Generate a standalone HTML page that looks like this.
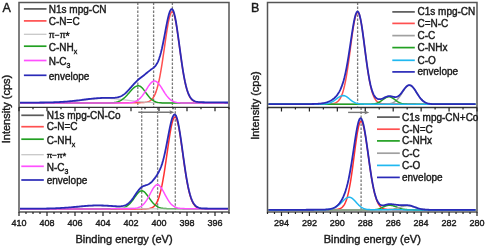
<!DOCTYPE html>
<html><head><meta charset="utf-8"><style>
html,body{margin:0;padding:0;background:#fff;}
svg{display:block;will-change:transform;}
text{font-family:"Liberation Sans",sans-serif;fill:#1a1a1a;stroke:#1a1a1a;stroke-width:0.4px;}
</style></head><body>
<svg width="486" height="248" viewBox="0 0 486 248">
<rect width="486" height="248" fill="#fff"/>
<line x1="137.8" y1="2.5" x2="137.8" y2="107.3" stroke="#7a7a7a" stroke-width="1.3" stroke-dasharray="2.5,1.5"/>
<line x1="153.6" y1="2.5" x2="153.6" y2="107.3" stroke="#7a7a7a" stroke-width="1.3" stroke-dasharray="2.5,1.5"/>
<line x1="172.4" y1="2.5" x2="172.4" y2="107.3" stroke="#7a7a7a" stroke-width="1.3" stroke-dasharray="2.5,1.5"/>
<line x1="141.7" y1="107.3" x2="141.7" y2="212" stroke="#7a7a7a" stroke-width="1.3" stroke-dasharray="2.5,1.5"/>
<line x1="157.6" y1="107.3" x2="157.6" y2="212" stroke="#7a7a7a" stroke-width="1.3" stroke-dasharray="2.5,1.5"/>
<line x1="175.3" y1="107.3" x2="175.3" y2="212" stroke="#7a7a7a" stroke-width="1.3" stroke-dasharray="2.5,1.5"/>
<path d="M20.0,102.98 L21.0,102.98 L22.0,102.98 L23.0,102.98 L24.0,102.98 L25.0,102.98 L26.0,102.98 L27.0,102.98 L28.0,102.98 L29.0,102.98 L30.0,102.98 L31.0,102.98 L32.0,102.98 L33.0,102.98 L34.0,102.98 L35.0,102.98 L36.0,102.98 L37.0,102.98 L38.0,102.98 L39.0,102.98 L40.0,102.98 L41.0,102.98 L42.0,102.98 L43.0,102.98 L44.0,102.98 L45.0,102.98 L46.0,102.98 L47.0,102.98 L48.0,102.98 L49.0,102.97 L50.0,102.97 L51.0,102.97 L52.0,102.97 L53.0,102.97 L54.0,102.97 L55.0,102.97 L56.0,102.97 L57.0,102.97 L58.0,102.97 L59.0,102.97 L60.0,102.97 L61.0,102.97 L62.0,102.97 L63.0,102.97 L64.0,102.97 L65.0,102.97 L66.0,102.97 L67.0,102.97 L68.0,102.96 L69.0,102.96 L70.0,102.96 L71.0,102.96 L72.0,102.96 L73.0,102.96 L74.0,102.96 L75.0,102.96 L76.0,102.96 L77.0,102.96 L78.0,102.96 L79.0,102.96 L80.0,102.96 L81.0,102.95 L82.0,102.95 L83.0,102.95 L84.0,102.95 L85.0,102.95 L86.0,102.95 L87.0,102.95 L88.0,102.95 L89.0,102.95 L90.0,102.94 L91.0,102.94 L92.0,102.94 L93.0,102.94 L94.0,102.94 L95.0,102.94 L96.0,102.93 L97.0,102.93 L98.0,102.93 L99.0,102.93 L100.0,102.93 L101.0,102.93 L102.0,102.92 L103.0,102.92 L104.0,102.92 L105.0,102.92 L106.0,102.91 L107.0,102.91 L108.0,102.91 L109.0,102.91 L110.0,102.90 L111.0,102.90 L112.0,102.90 L113.0,102.89 L114.0,102.89 L115.0,102.89 L116.0,102.88 L117.0,102.88 L118.0,102.87 L119.0,102.87 L120.0,102.86 L121.0,102.86 L122.0,102.85 L123.0,102.85 L124.0,102.84 L125.0,102.83 L126.0,102.83 L127.0,102.82 L128.0,102.81 L129.0,102.80 L130.0,102.79 L131.0,102.78 L132.0,102.77 L133.0,102.76 L134.0,102.75 L135.0,102.74 L136.0,102.72 L137.0,102.71 L138.0,102.69 L139.0,102.67 L140.0,102.64 L141.0,102.61 L142.0,102.57 L143.0,102.51 L144.0,102.44 L145.0,102.33 L146.0,102.19 L147.0,102.00 L148.0,101.72 L149.0,101.34 L150.0,100.82 L151.0,100.12 L152.0,99.19 L153.0,97.96 L154.0,96.37 L155.0,94.36 L156.0,91.86 L157.0,88.79 L158.0,85.11 L159.0,80.80 L160.0,75.82 L161.0,70.23 L162.0,64.07 L163.0,57.46 L164.0,50.55 L165.0,43.53 L166.0,36.62 L167.0,30.09 L168.0,24.19 L169.0,19.19 L170.0,15.33 L171.0,12.80 L172.0,11.73 L173.0,12.24 L174.0,14.42 L175.0,18.12 L176.0,23.14 L177.0,29.22 L178.0,36.04 L179.0,43.30 L180.0,50.70 L181.0,57.97 L182.0,64.90 L183.0,71.30 L184.0,77.06 L185.0,82.12 L186.0,86.46 L187.0,90.09 L188.0,93.06 L189.0,95.44 L190.0,97.31 L191.0,98.75 L192.0,99.84 L193.0,100.65 L194.0,101.24 L195.0,101.67 L196.0,101.97 L197.0,102.18 L198.0,102.33 L199.0,102.44 L200.0,102.52 L201.0,102.57 L202.0,102.61 L203.0,102.65 L204.0,102.67 L205.0,102.69 L206.0,102.71 L207.0,102.73 L208.0,102.74 L209.0,102.76 L210.0,102.77 L211.0,102.78 L212.0,102.79 L213.0,102.80 L214.0,102.81 L215.0,102.82 L216.0,102.83 L217.0,102.83 L218.0,102.84 L219.0,102.85 L220.0,102.85 L221.0,102.86 L222.0,102.86 L223.0,102.87 L224.0,102.87 L225.0,102.88 L226.0,102.88 L227.0,102.89 L228.0,102.89" fill="none" stroke="#ff5050" stroke-width="1.5" stroke-linejoin="round"/>
<path d="M20.0,103.00 L21.0,103.00 L22.0,103.00 L23.0,103.00 L24.0,102.99 L25.0,102.99 L26.0,102.99 L27.0,102.99 L28.0,102.99 L29.0,102.99 L30.0,102.99 L31.0,102.98 L32.0,102.98 L33.0,102.98 L34.0,102.97 L35.0,102.97 L36.0,102.97 L37.0,102.96 L38.0,102.96 L39.0,102.95 L40.0,102.94 L41.0,102.93 L42.0,102.92 L43.0,102.91 L44.0,102.90 L45.0,102.89 L46.0,102.87 L47.0,102.86 L48.0,102.84 L49.0,102.82 L50.0,102.80 L51.0,102.77 L52.0,102.75 L53.0,102.72 L54.0,102.69 L55.0,102.65 L56.0,102.61 L57.0,102.57 L58.0,102.53 L59.0,102.48 L60.0,102.43 L61.0,102.38 L62.0,102.32 L63.0,102.26 L64.0,102.19 L65.0,102.12 L66.0,102.04 L67.0,101.97 L68.0,101.88 L69.0,101.79 L70.0,101.70 L71.0,101.61 L72.0,101.51 L73.0,101.40 L74.0,101.30 L75.0,101.18 L76.0,101.07 L77.0,100.95 L78.0,100.83 L79.0,100.71 L80.0,100.59 L81.0,100.46 L82.0,100.34 L83.0,100.21 L84.0,100.08 L85.0,99.96 L86.0,99.83 L87.0,99.71 L88.0,99.59 L89.0,99.47 L90.0,99.35 L91.0,99.24 L92.0,99.14 L93.0,99.04 L94.0,98.94 L95.0,98.85 L96.0,98.77 L97.0,98.69 L98.0,98.63 L99.0,98.57 L100.0,98.52 L101.0,98.48 L102.0,98.44 L103.0,98.42 L104.0,98.40 L105.0,98.40 L106.0,98.40 L107.0,98.42 L108.0,98.44 L109.0,98.48 L110.0,98.52 L111.0,98.57 L112.0,98.63 L113.0,98.69 L114.0,98.77 L115.0,98.85 L116.0,98.94 L117.0,99.04 L118.0,99.14 L119.0,99.24 L120.0,99.35 L121.0,99.47 L122.0,99.59 L123.0,99.71 L124.0,99.83 L125.0,99.96 L126.0,100.08 L127.0,100.21 L128.0,100.34 L129.0,100.46 L130.0,100.59 L131.0,100.71 L132.0,100.83 L133.0,100.95 L134.0,101.07 L135.0,101.18 L136.0,101.30 L137.0,101.40 L138.0,101.51 L139.0,101.61 L140.0,101.70 L141.0,101.79 L142.0,101.88 L143.0,101.97 L144.0,102.04 L145.0,102.12 L146.0,102.19 L147.0,102.26 L148.0,102.32 L149.0,102.38 L150.0,102.43 L151.0,102.48 L152.0,102.53 L153.0,102.57 L154.0,102.61 L155.0,102.65 L156.0,102.69 L157.0,102.72 L158.0,102.75 L159.0,102.77 L160.0,102.80 L161.0,102.82 L162.0,102.84 L163.0,102.86 L164.0,102.87 L165.0,102.89 L166.0,102.90 L167.0,102.91 L168.0,102.92 L169.0,102.93 L170.0,102.94 L171.0,102.95 L172.0,102.96 L173.0,102.96 L174.0,102.97 L175.0,102.97 L176.0,102.97 L177.0,102.98 L178.0,102.98 L179.0,102.98 L180.0,102.99 L181.0,102.99 L182.0,102.99 L183.0,102.99 L184.0,102.99 L185.0,102.99 L186.0,102.99 L187.0,103.00 L188.0,103.00 L189.0,103.00 L190.0,103.00 L191.0,103.00 L192.0,103.00 L193.0,103.00 L194.0,103.00 L195.0,103.00 L196.0,103.00 L197.0,103.00 L198.0,103.00 L199.0,103.00 L200.0,103.00 L201.0,103.00 L202.0,103.00 L203.0,103.00 L204.0,103.00 L205.0,103.00 L206.0,103.00 L207.0,103.00 L208.0,103.00 L209.0,103.00 L210.0,103.00 L211.0,103.00 L212.0,103.00 L213.0,103.00 L214.0,103.00 L215.0,103.00 L216.0,103.00 L217.0,103.00 L218.0,103.00 L219.0,103.00 L220.0,103.00 L221.0,103.00 L222.0,103.00 L223.0,103.00 L224.0,103.00 L225.0,103.00 L226.0,103.00 L227.0,103.00 L228.0,103.00" fill="none" stroke="#c8c8c8" stroke-width="1.2" stroke-linejoin="round"/>
<path d="M20.0,103.00 L21.0,103.00 L22.0,103.00 L23.0,103.00 L24.0,103.00 L25.0,103.00 L26.0,103.00 L27.0,103.00 L28.0,103.00 L29.0,103.00 L30.0,103.00 L31.0,103.00 L32.0,103.00 L33.0,103.00 L34.0,103.00 L35.0,103.00 L36.0,103.00 L37.0,103.00 L38.0,103.00 L39.0,103.00 L40.0,103.00 L41.0,103.00 L42.0,103.00 L43.0,103.00 L44.0,103.00 L45.0,103.00 L46.0,103.00 L47.0,103.00 L48.0,103.00 L49.0,103.00 L50.0,103.00 L51.0,103.00 L52.0,103.00 L53.0,103.00 L54.0,103.00 L55.0,103.00 L56.0,103.00 L57.0,103.00 L58.0,103.00 L59.0,103.00 L60.0,103.00 L61.0,103.00 L62.0,103.00 L63.0,103.00 L64.0,103.00 L65.0,103.00 L66.0,103.00 L67.0,103.00 L68.0,103.00 L69.0,103.00 L70.0,103.00 L71.0,103.00 L72.0,103.00 L73.0,103.00 L74.0,103.00 L75.0,103.00 L76.0,103.00 L77.0,103.00 L78.0,103.00 L79.0,103.00 L80.0,103.00 L81.0,103.00 L82.0,103.00 L83.0,103.00 L84.0,103.00 L85.0,103.00 L86.0,103.00 L87.0,103.00 L88.0,103.00 L89.0,103.00 L90.0,103.00 L91.0,103.00 L92.0,103.00 L93.0,103.00 L94.0,103.00 L95.0,103.00 L96.0,103.00 L97.0,103.00 L98.0,103.00 L99.0,103.00 L100.0,103.00 L101.0,103.00 L102.0,102.99 L103.0,102.99 L104.0,102.99 L105.0,102.98 L106.0,102.97 L107.0,102.96 L108.0,102.94 L109.0,102.91 L110.0,102.88 L111.0,102.83 L112.0,102.76 L113.0,102.67 L114.0,102.55 L115.0,102.40 L116.0,102.20 L117.0,101.95 L118.0,101.65 L119.0,101.27 L120.0,100.82 L121.0,100.29 L122.0,99.66 L123.0,98.95 L124.0,98.13 L125.0,97.23 L126.0,96.24 L127.0,95.18 L128.0,94.06 L129.0,92.92 L130.0,91.76 L131.0,90.62 L132.0,89.54 L133.0,88.54 L134.0,87.66 L135.0,86.92 L136.0,86.35 L137.0,85.98 L138.0,85.81 L139.0,85.87 L140.0,86.24 L141.0,86.88 L142.0,87.77 L143.0,88.87 L144.0,90.11 L145.0,91.46 L146.0,92.85 L147.0,94.22 L148.0,95.55 L149.0,96.78 L150.0,97.91 L151.0,98.90 L152.0,99.76 L153.0,100.48 L154.0,101.08 L155.0,101.56 L156.0,101.94 L157.0,102.23 L158.0,102.45 L159.0,102.62 L160.0,102.74 L161.0,102.82 L162.0,102.88 L163.0,102.92 L164.0,102.95 L165.0,102.97 L166.0,102.98 L167.0,102.99 L168.0,102.99 L169.0,103.00 L170.0,103.00 L171.0,103.00 L172.0,103.00 L173.0,103.00 L174.0,103.00 L175.0,103.00 L176.0,103.00 L177.0,103.00 L178.0,103.00 L179.0,103.00 L180.0,103.00 L181.0,103.00 L182.0,103.00 L183.0,103.00 L184.0,103.00 L185.0,103.00 L186.0,103.00 L187.0,103.00 L188.0,103.00 L189.0,103.00 L190.0,103.00 L191.0,103.00 L192.0,103.00 L193.0,103.00 L194.0,103.00 L195.0,103.00 L196.0,103.00 L197.0,103.00 L198.0,103.00 L199.0,103.00 L200.0,103.00 L201.0,103.00 L202.0,103.00 L203.0,103.00 L204.0,103.00 L205.0,103.00 L206.0,103.00 L207.0,103.00 L208.0,103.00 L209.0,103.00 L210.0,103.00 L211.0,103.00 L212.0,103.00 L213.0,103.00 L214.0,103.00 L215.0,103.00 L216.0,103.00 L217.0,103.00 L218.0,103.00 L219.0,103.00 L220.0,103.00 L221.0,103.00 L222.0,103.00 L223.0,103.00 L224.0,103.00 L225.0,103.00 L226.0,103.00 L227.0,103.00 L228.0,103.00" fill="none" stroke="#22a022" stroke-width="1.5" stroke-linejoin="round"/>
<path d="M20.0,103.00 L21.0,103.00 L22.0,103.00 L23.0,103.00 L24.0,103.00 L25.0,103.00 L26.0,103.00 L27.0,103.00 L28.0,103.00 L29.0,103.00 L30.0,103.00 L31.0,103.00 L32.0,103.00 L33.0,103.00 L34.0,103.00 L35.0,103.00 L36.0,103.00 L37.0,103.00 L38.0,103.00 L39.0,103.00 L40.0,103.00 L41.0,103.00 L42.0,103.00 L43.0,103.00 L44.0,103.00 L45.0,103.00 L46.0,103.00 L47.0,103.00 L48.0,103.00 L49.0,103.00 L50.0,103.00 L51.0,103.00 L52.0,103.00 L53.0,103.00 L54.0,103.00 L55.0,103.00 L56.0,103.00 L57.0,103.00 L58.0,103.00 L59.0,103.00 L60.0,103.00 L61.0,103.00 L62.0,103.00 L63.0,103.00 L64.0,103.00 L65.0,103.00 L66.0,103.00 L67.0,103.00 L68.0,103.00 L69.0,103.00 L70.0,103.00 L71.0,103.00 L72.0,103.00 L73.0,103.00 L74.0,103.00 L75.0,103.00 L76.0,103.00 L77.0,103.00 L78.0,103.00 L79.0,103.00 L80.0,103.00 L81.0,103.00 L82.0,103.00 L83.0,103.00 L84.0,103.00 L85.0,103.00 L86.0,103.00 L87.0,103.00 L88.0,103.00 L89.0,103.00 L90.0,103.00 L91.0,103.00 L92.0,103.00 L93.0,103.00 L94.0,103.00 L95.0,103.00 L96.0,103.00 L97.0,103.00 L98.0,103.00 L99.0,103.00 L100.0,103.00 L101.0,103.00 L102.0,103.00 L103.0,103.00 L104.0,103.00 L105.0,103.00 L106.0,103.00 L107.0,103.00 L108.0,103.00 L109.0,103.00 L110.0,103.00 L111.0,103.00 L112.0,103.00 L113.0,103.00 L114.0,103.00 L115.0,103.00 L116.0,103.00 L117.0,103.00 L118.0,103.00 L119.0,103.00 L120.0,103.00 L121.0,102.99 L122.0,102.99 L123.0,102.99 L124.0,102.98 L125.0,102.97 L126.0,102.95 L127.0,102.92 L128.0,102.88 L129.0,102.83 L130.0,102.75 L131.0,102.64 L132.0,102.49 L133.0,102.29 L134.0,102.03 L135.0,101.70 L136.0,101.27 L137.0,100.74 L138.0,100.09 L139.0,99.31 L140.0,98.39 L141.0,97.33 L142.0,96.12 L143.0,94.77 L144.0,93.31 L145.0,91.75 L146.0,90.14 L147.0,88.52 L148.0,86.93 L149.0,85.43 L150.0,84.08 L151.0,82.92 L152.0,82.00 L153.0,81.37 L154.0,81.04 L155.0,81.04 L156.0,81.37 L157.0,82.00 L158.0,82.92 L159.0,84.08 L160.0,85.43 L161.0,86.93 L162.0,88.52 L163.0,90.14 L164.0,91.75 L165.0,93.31 L166.0,94.77 L167.0,96.12 L168.0,97.33 L169.0,98.39 L170.0,99.31 L171.0,100.09 L172.0,100.74 L173.0,101.27 L174.0,101.70 L175.0,102.03 L176.0,102.29 L177.0,102.49 L178.0,102.64 L179.0,102.75 L180.0,102.83 L181.0,102.88 L182.0,102.92 L183.0,102.95 L184.0,102.97 L185.0,102.98 L186.0,102.99 L187.0,102.99 L188.0,102.99 L189.0,103.00 L190.0,103.00 L191.0,103.00 L192.0,103.00 L193.0,103.00 L194.0,103.00 L195.0,103.00 L196.0,103.00 L197.0,103.00 L198.0,103.00 L199.0,103.00 L200.0,103.00 L201.0,103.00 L202.0,103.00 L203.0,103.00 L204.0,103.00 L205.0,103.00 L206.0,103.00 L207.0,103.00 L208.0,103.00 L209.0,103.00 L210.0,103.00 L211.0,103.00 L212.0,103.00 L213.0,103.00 L214.0,103.00 L215.0,103.00 L216.0,103.00 L217.0,103.00 L218.0,103.00 L219.0,103.00 L220.0,103.00 L221.0,103.00 L222.0,103.00 L223.0,103.00 L224.0,103.00 L225.0,103.00 L226.0,103.00 L227.0,103.00 L228.0,103.00" fill="none" stroke="#ff50ff" stroke-width="1.5" stroke-linejoin="round"/>
<path d="M20.0,102.58 L21.0,102.58 L22.0,102.58 L23.0,102.58 L24.0,102.58 L25.0,102.58 L26.0,102.57 L27.0,102.57 L28.0,102.57 L29.0,102.57 L30.0,102.57 L31.0,102.56 L32.0,102.56 L33.0,102.56 L34.0,102.55 L35.0,102.55 L36.0,102.55 L37.0,102.54 L38.0,102.53 L39.0,102.53 L40.0,102.52 L41.0,102.51 L42.0,102.50 L43.0,102.49 L44.0,102.48 L45.0,102.46 L46.0,102.45 L47.0,102.43 L48.0,102.41 L49.0,102.39 L50.0,102.37 L51.0,102.35 L52.0,102.32 L53.0,102.29 L54.0,102.26 L55.0,102.22 L56.0,102.19 L57.0,102.15 L58.0,102.10 L59.0,102.05 L60.0,102.00 L61.0,101.95 L62.0,101.89 L63.0,101.82 L64.0,101.76 L65.0,101.69 L66.0,101.61 L67.0,101.53 L68.0,101.45 L69.0,101.36 L70.0,101.27 L71.0,101.17 L72.0,101.07 L73.0,100.96 L74.0,100.86 L75.0,100.74 L76.0,100.63 L77.0,100.51 L78.0,100.39 L79.0,100.27 L80.0,100.14 L81.0,100.02 L82.0,99.89 L83.0,99.76 L84.0,99.63 L85.0,99.51 L86.0,99.38 L87.0,99.26 L88.0,99.13 L89.0,99.01 L90.0,98.90 L91.0,98.79 L92.0,98.68 L93.0,98.58 L94.0,98.48 L95.0,98.39 L96.0,98.30 L97.0,98.23 L98.0,98.16 L99.0,98.10 L100.0,98.04 L101.0,98.00 L102.0,97.96 L103.0,97.93 L104.0,97.91 L105.0,97.90 L106.0,97.89 L107.0,97.89 L108.0,97.89 L109.0,97.90 L110.0,97.90 L111.0,97.89 L112.0,97.88 L113.0,97.86 L114.0,97.81 L115.0,97.73 L116.0,97.62 L117.0,97.47 L118.0,97.26 L119.0,96.98 L120.0,96.64 L121.0,96.21 L122.0,95.69 L123.0,95.09 L124.0,94.38 L125.0,93.58 L126.0,92.70 L127.0,91.73 L128.0,90.69 L129.0,89.59 L130.0,88.46 L131.0,87.32 L132.0,86.17 L133.0,85.05 L134.0,83.95 L135.0,82.90 L136.0,81.88 L137.0,80.90 L138.0,79.95 L139.0,79.04 L140.0,78.20 L141.0,77.42 L142.0,76.67 L143.0,75.93 L144.0,75.17 L145.0,74.38 L146.0,73.57 L147.0,72.74 L148.0,71.92 L149.0,71.11 L150.0,70.34 L151.0,69.59 L152.0,68.87 L153.0,68.12 L154.0,67.30 L155.0,66.33 L156.0,65.11 L157.0,63.55 L158.0,61.57 L159.0,59.08 L160.0,56.02 L161.0,52.38 L162.0,48.17 L163.0,43.46 L164.0,38.37 L165.0,33.05 L166.0,27.72 L167.0,22.61 L168.0,17.98 L169.0,14.08 L170.0,11.16 L171.0,9.43 L172.0,9.02 L173.0,10.07 L174.0,12.68 L175.0,16.72 L176.0,22.01 L177.0,28.29 L178.0,35.26 L179.0,42.63 L180.0,50.11 L181.0,57.44 L182.0,64.41 L183.0,70.84 L184.0,76.62 L185.0,81.70 L186.0,86.04 L187.0,89.67 L188.0,92.65 L189.0,95.03 L190.0,96.91 L191.0,98.35 L192.0,99.44 L193.0,100.25 L194.0,100.84 L195.0,101.26 L196.0,101.57 L197.0,101.78 L198.0,101.93 L199.0,102.04 L200.0,102.12 L201.0,102.17 L202.0,102.21 L203.0,102.25 L204.0,102.27 L205.0,102.29 L206.0,102.31 L207.0,102.33 L208.0,102.34 L209.0,102.36 L210.0,102.37 L211.0,102.38 L212.0,102.39 L213.0,102.40 L214.0,102.41 L215.0,102.42 L216.0,102.43 L217.0,102.43 L218.0,102.44 L219.0,102.45 L220.0,102.45 L221.0,102.46 L222.0,102.46 L223.0,102.47 L224.0,102.47 L225.0,102.48 L226.0,102.48 L227.0,102.49 L228.0,102.49" fill="none" stroke="#2a2ab8" stroke-width="1.8" stroke-linejoin="round"/>
<path d="M20.0,209.00 L21.0,209.00 L22.0,209.00 L23.0,209.00 L24.0,209.00 L25.0,209.00 L26.0,209.00 L27.0,209.00 L28.0,209.00 L29.0,209.00 L30.0,209.00 L31.0,209.00 L32.0,209.00 L33.0,209.00 L34.0,209.00 L35.0,209.00 L36.0,209.00 L37.0,209.00 L38.0,209.00 L39.0,209.00 L40.0,209.00 L41.0,209.00 L42.0,209.00 L43.0,209.00 L44.0,209.00 L45.0,209.00 L46.0,209.00 L47.0,209.00 L48.0,209.00 L49.0,209.00 L50.0,209.00 L51.0,209.00 L52.0,209.00 L53.0,209.00 L54.0,209.00 L55.0,209.00 L56.0,209.00 L57.0,209.00 L58.0,209.00 L59.0,209.00 L60.0,209.00 L61.0,209.00 L62.0,209.00 L63.0,209.00 L64.0,209.00 L65.0,209.00 L66.0,209.00 L67.0,209.00 L68.0,209.00 L69.0,209.00 L70.0,209.00 L71.0,209.00 L72.0,209.00 L73.0,209.00 L74.0,209.00 L75.0,209.00 L76.0,209.00 L77.0,209.00 L78.0,209.00 L79.0,209.00 L80.0,209.00 L81.0,209.00 L82.0,209.00 L83.0,209.00 L84.0,209.00 L85.0,209.00 L86.0,209.00 L87.0,209.00 L88.0,209.00 L89.0,209.00 L90.0,209.00 L91.0,209.00 L92.0,209.00 L93.0,209.00 L94.0,209.00 L95.0,209.00 L96.0,209.00 L97.0,209.00 L98.0,209.00 L99.0,209.00 L100.0,209.00 L101.0,209.00 L102.0,209.00 L103.0,209.00 L104.0,209.00 L105.0,209.00 L106.0,209.00 L107.0,209.00 L108.0,209.00 L109.0,209.00 L110.0,209.00 L111.0,209.00 L112.0,209.00 L113.0,209.00 L114.0,209.00 L115.0,209.00 L116.0,209.00 L117.0,209.00 L118.0,209.00 L119.0,209.00 L120.0,209.00 L121.0,209.00 L122.0,209.00 L123.0,209.00 L124.0,209.00 L125.0,209.00 L126.0,209.00 L127.0,209.00 L128.0,209.00 L129.0,209.00 L130.0,209.00 L131.0,209.00 L132.0,209.00 L133.0,209.00 L134.0,209.00 L135.0,209.00 L136.0,209.00 L137.0,209.00 L138.0,209.00 L139.0,209.00 L140.0,208.99 L141.0,208.99 L142.0,208.99 L143.0,208.97 L144.0,208.96 L145.0,208.93 L146.0,208.89 L147.0,208.83 L148.0,208.73 L149.0,208.59 L150.0,208.38 L151.0,208.09 L152.0,207.67 L153.0,207.10 L154.0,206.31 L155.0,205.27 L156.0,203.90 L157.0,202.14 L158.0,199.92 L159.0,197.17 L160.0,193.83 L161.0,189.86 L162.0,185.24 L163.0,179.98 L164.0,174.10 L165.0,167.71 L166.0,160.92 L167.0,153.91 L168.0,146.87 L169.0,140.05 L170.0,133.70 L171.0,128.07 L172.0,123.40 L173.0,119.90 L174.0,117.73 L175.0,117.00 L176.0,117.77 L177.0,120.05 L178.0,123.72 L179.0,128.61 L180.0,134.49 L181.0,141.09 L182.0,148.14 L183.0,155.37 L184.0,162.53 L185.0,169.41 L186.0,175.84 L187.0,181.69 L188.0,186.88 L189.0,191.38 L190.0,195.20 L191.0,198.38 L192.0,200.96 L193.0,203.01 L194.0,204.62 L195.0,205.85 L196.0,206.77 L197.0,207.45 L198.0,207.94 L199.0,208.29 L200.0,208.53 L201.0,208.69 L202.0,208.80 L203.0,208.88 L204.0,208.92 L205.0,208.95 L206.0,208.97 L207.0,208.98 L208.0,208.99 L209.0,208.99 L210.0,209.00 L211.0,209.00 L212.0,209.00 L213.0,209.00 L214.0,209.00 L215.0,209.00 L216.0,209.00 L217.0,209.00 L218.0,209.00 L219.0,209.00 L220.0,209.00 L221.0,209.00 L222.0,209.00 L223.0,209.00 L224.0,209.00 L225.0,209.00 L226.0,209.00 L227.0,209.00 L228.0,209.00" fill="none" stroke="#ff3030" stroke-width="1.5" stroke-linejoin="round"/>
<path d="M20.0,208.99 L21.0,208.99 L22.0,208.99 L23.0,208.98 L24.0,208.98 L25.0,208.98 L26.0,208.98 L27.0,208.98 L28.0,208.98 L29.0,208.98 L30.0,208.98 L31.0,208.98 L32.0,208.98 L33.0,208.98 L34.0,208.98 L35.0,208.98 L36.0,208.98 L37.0,208.98 L38.0,208.98 L39.0,208.98 L40.0,208.98 L41.0,208.98 L42.0,208.98 L43.0,208.98 L44.0,208.98 L45.0,208.98 L46.0,208.98 L47.0,208.98 L48.0,208.98 L49.0,208.98 L50.0,208.97 L51.0,208.97 L52.0,208.97 L53.0,208.97 L54.0,208.97 L55.0,208.97 L56.0,208.97 L57.0,208.97 L58.0,208.97 L59.0,208.97 L60.0,208.97 L61.0,208.97 L62.0,208.97 L63.0,208.97 L64.0,208.97 L65.0,208.96 L66.0,208.96 L67.0,208.96 L68.0,208.96 L69.0,208.96 L70.0,208.96 L71.0,208.96 L72.0,208.96 L73.0,208.96 L74.0,208.95 L75.0,208.95 L76.0,208.95 L77.0,208.95 L78.0,208.95 L79.0,208.95 L80.0,208.95 L81.0,208.94 L82.0,208.94 L83.0,208.94 L84.0,208.94 L85.0,208.94 L86.0,208.93 L87.0,208.93 L88.0,208.93 L89.0,208.93 L90.0,208.92 L91.0,208.92 L92.0,208.92 L93.0,208.91 L94.0,208.91 L95.0,208.91 L96.0,208.90 L97.0,208.90 L98.0,208.89 L99.0,208.89 L100.0,208.88 L101.0,208.88 L102.0,208.87 L103.0,208.86 L104.0,208.86 L105.0,208.85 L106.0,208.84 L107.0,208.83 L108.0,208.82 L109.0,208.81 L110.0,208.80 L111.0,208.79 L112.0,208.77 L113.0,208.75 L114.0,208.73 L115.0,208.70 L116.0,208.67 L117.0,208.62 L118.0,208.56 L119.0,208.48 L120.0,208.38 L121.0,208.24 L122.0,208.05 L123.0,207.81 L124.0,207.50 L125.0,207.11 L126.0,206.61 L127.0,206.01 L128.0,205.28 L129.0,204.42 L130.0,203.43 L131.0,202.30 L132.0,201.06 L133.0,199.72 L134.0,198.32 L135.0,196.89 L136.0,195.48 L137.0,194.16 L138.0,192.98 L139.0,192.00 L140.0,191.29 L141.0,190.88 L142.0,190.82 L143.0,191.09 L144.0,191.68 L145.0,192.56 L146.0,193.67 L147.0,194.94 L148.0,196.32 L149.0,197.75 L150.0,199.16 L151.0,200.53 L152.0,201.82 L153.0,202.99 L154.0,204.04 L155.0,204.95 L156.0,205.73 L157.0,206.39 L158.0,206.92 L159.0,207.35 L160.0,207.70 L161.0,207.96 L162.0,208.17 L163.0,208.33 L164.0,208.44 L165.0,208.53 L166.0,208.60 L167.0,208.65 L168.0,208.69 L169.0,208.72 L170.0,208.75 L171.0,208.77 L172.0,208.78 L173.0,208.80 L174.0,208.81 L175.0,208.82 L176.0,208.83 L177.0,208.84 L178.0,208.85 L179.0,208.86 L180.0,208.86 L181.0,208.87 L182.0,208.87 L183.0,208.88 L184.0,208.89 L185.0,208.89 L186.0,208.90 L187.0,208.90 L188.0,208.90 L189.0,208.91 L190.0,208.91 L191.0,208.92 L192.0,208.92 L193.0,208.92 L194.0,208.92 L195.0,208.93 L196.0,208.93 L197.0,208.93 L198.0,208.93 L199.0,208.94 L200.0,208.94 L201.0,208.94 L202.0,208.94 L203.0,208.94 L204.0,208.95 L205.0,208.95 L206.0,208.95 L207.0,208.95 L208.0,208.95 L209.0,208.95 L210.0,208.96 L211.0,208.96 L212.0,208.96 L213.0,208.96 L214.0,208.96 L215.0,208.96 L216.0,208.96 L217.0,208.96 L218.0,208.96 L219.0,208.96 L220.0,208.97 L221.0,208.97 L222.0,208.97 L223.0,208.97 L224.0,208.97 L225.0,208.97 L226.0,208.97 L227.0,208.97 L228.0,208.97" fill="none" stroke="#22a022" stroke-width="1.5" stroke-linejoin="round"/>
<path d="M20.0,209.00 L21.0,209.00 L22.0,209.00 L23.0,209.00 L24.0,209.00 L25.0,209.00 L26.0,208.99 L27.0,208.99 L28.0,208.99 L29.0,208.99 L30.0,208.99 L31.0,208.99 L32.0,208.98 L33.0,208.98 L34.0,208.98 L35.0,208.97 L36.0,208.97 L37.0,208.97 L38.0,208.96 L39.0,208.95 L40.0,208.95 L41.0,208.94 L42.0,208.93 L43.0,208.92 L44.0,208.91 L45.0,208.89 L46.0,208.88 L47.0,208.86 L48.0,208.85 L49.0,208.83 L50.0,208.80 L51.0,208.78 L52.0,208.75 L53.0,208.72 L54.0,208.69 L55.0,208.66 L56.0,208.62 L57.0,208.58 L58.0,208.54 L59.0,208.49 L60.0,208.44 L61.0,208.39 L62.0,208.33 L63.0,208.27 L64.0,208.21 L65.0,208.14 L66.0,208.07 L67.0,207.99 L68.0,207.92 L69.0,207.84 L70.0,207.75 L71.0,207.67 L72.0,207.58 L73.0,207.49 L74.0,207.40 L75.0,207.31 L76.0,207.21 L77.0,207.12 L78.0,207.03 L79.0,206.93 L80.0,206.84 L81.0,206.75 L82.0,206.66 L83.0,206.57 L84.0,206.49 L85.0,206.41 L86.0,206.34 L87.0,206.26 L88.0,206.20 L89.0,206.14 L90.0,206.08 L91.0,206.04 L92.0,206.00 L93.0,205.96 L94.0,205.93 L95.0,205.92 L96.0,205.90 L97.0,205.90 L98.0,205.90 L99.0,205.92 L100.0,205.93 L101.0,205.96 L102.0,206.00 L103.0,206.04 L104.0,206.08 L105.0,206.14 L106.0,206.20 L107.0,206.26 L108.0,206.34 L109.0,206.41 L110.0,206.49 L111.0,206.57 L112.0,206.66 L113.0,206.75 L114.0,206.84 L115.0,206.93 L116.0,207.03 L117.0,207.12 L118.0,207.21 L119.0,207.31 L120.0,207.40 L121.0,207.49 L122.0,207.58 L123.0,207.67 L124.0,207.75 L125.0,207.84 L126.0,207.92 L127.0,207.99 L128.0,208.07 L129.0,208.14 L130.0,208.21 L131.0,208.27 L132.0,208.33 L133.0,208.39 L134.0,208.44 L135.0,208.49 L136.0,208.54 L137.0,208.58 L138.0,208.62 L139.0,208.66 L140.0,208.69 L141.0,208.72 L142.0,208.75 L143.0,208.78 L144.0,208.80 L145.0,208.83 L146.0,208.85 L147.0,208.86 L148.0,208.88 L149.0,208.89 L150.0,208.91 L151.0,208.92 L152.0,208.93 L153.0,208.94 L154.0,208.95 L155.0,208.95 L156.0,208.96 L157.0,208.97 L158.0,208.97 L159.0,208.97 L160.0,208.98 L161.0,208.98 L162.0,208.98 L163.0,208.99 L164.0,208.99 L165.0,208.99 L166.0,208.99 L167.0,208.99 L168.0,208.99 L169.0,209.00 L170.0,209.00 L171.0,209.00 L172.0,209.00 L173.0,209.00 L174.0,209.00 L175.0,209.00 L176.0,209.00 L177.0,209.00 L178.0,209.00 L179.0,209.00 L180.0,209.00 L181.0,209.00 L182.0,209.00 L183.0,209.00 L184.0,209.00 L185.0,209.00 L186.0,209.00 L187.0,209.00 L188.0,209.00 L189.0,209.00 L190.0,209.00 L191.0,209.00 L192.0,209.00 L193.0,209.00 L194.0,209.00 L195.0,209.00 L196.0,209.00 L197.0,209.00 L198.0,209.00 L199.0,209.00 L200.0,209.00 L201.0,209.00 L202.0,209.00 L203.0,209.00 L204.0,209.00 L205.0,209.00 L206.0,209.00 L207.0,209.00 L208.0,209.00 L209.0,209.00 L210.0,209.00 L211.0,209.00 L212.0,209.00 L213.0,209.00 L214.0,209.00 L215.0,209.00 L216.0,209.00 L217.0,209.00 L218.0,209.00 L219.0,209.00 L220.0,209.00 L221.0,209.00 L222.0,209.00 L223.0,209.00 L224.0,209.00 L225.0,209.00 L226.0,209.00 L227.0,209.00 L228.0,209.00" fill="none" stroke="#c8c8c8" stroke-width="1.2" stroke-linejoin="round"/>
<path d="M20.0,208.99 L21.0,208.98 L22.0,208.98 L23.0,208.98 L24.0,208.98 L25.0,208.98 L26.0,208.98 L27.0,208.98 L28.0,208.98 L29.0,208.98 L30.0,208.98 L31.0,208.98 L32.0,208.98 L33.0,208.98 L34.0,208.98 L35.0,208.98 L36.0,208.98 L37.0,208.98 L38.0,208.98 L39.0,208.98 L40.0,208.98 L41.0,208.98 L42.0,208.98 L43.0,208.98 L44.0,208.98 L45.0,208.98 L46.0,208.98 L47.0,208.98 L48.0,208.98 L49.0,208.98 L50.0,208.98 L51.0,208.98 L52.0,208.97 L53.0,208.97 L54.0,208.97 L55.0,208.97 L56.0,208.97 L57.0,208.97 L58.0,208.97 L59.0,208.97 L60.0,208.97 L61.0,208.97 L62.0,208.97 L63.0,208.97 L64.0,208.97 L65.0,208.97 L66.0,208.97 L67.0,208.97 L68.0,208.96 L69.0,208.96 L70.0,208.96 L71.0,208.96 L72.0,208.96 L73.0,208.96 L74.0,208.96 L75.0,208.96 L76.0,208.96 L77.0,208.96 L78.0,208.96 L79.0,208.95 L80.0,208.95 L81.0,208.95 L82.0,208.95 L83.0,208.95 L84.0,208.95 L85.0,208.95 L86.0,208.95 L87.0,208.94 L88.0,208.94 L89.0,208.94 L90.0,208.94 L91.0,208.94 L92.0,208.93 L93.0,208.93 L94.0,208.93 L95.0,208.93 L96.0,208.93 L97.0,208.92 L98.0,208.92 L99.0,208.92 L100.0,208.92 L101.0,208.91 L102.0,208.91 L103.0,208.91 L104.0,208.90 L105.0,208.90 L106.0,208.90 L107.0,208.89 L108.0,208.89 L109.0,208.88 L110.0,208.88 L111.0,208.87 L112.0,208.87 L113.0,208.86 L114.0,208.86 L115.0,208.85 L116.0,208.84 L117.0,208.83 L118.0,208.83 L119.0,208.82 L120.0,208.81 L121.0,208.80 L122.0,208.79 L123.0,208.77 L124.0,208.76 L125.0,208.75 L126.0,208.73 L127.0,208.71 L128.0,208.69 L129.0,208.66 L130.0,208.63 L131.0,208.59 L132.0,208.54 L133.0,208.47 L134.0,208.39 L135.0,208.27 L136.0,208.12 L137.0,207.91 L138.0,207.65 L139.0,207.30 L140.0,206.85 L141.0,206.29 L142.0,205.59 L143.0,204.73 L144.0,203.71 L145.0,202.51 L146.0,201.13 L147.0,199.58 L148.0,197.87 L149.0,196.05 L150.0,194.16 L151.0,192.26 L152.0,190.41 L153.0,188.69 L154.0,187.19 L155.0,185.98 L156.0,185.15 L157.0,184.74 L158.0,184.78 L159.0,185.28 L160.0,186.20 L161.0,187.47 L162.0,189.02 L163.0,190.77 L164.0,192.64 L165.0,194.55 L166.0,196.43 L167.0,198.23 L168.0,199.90 L169.0,201.42 L170.0,202.76 L171.0,203.93 L172.0,204.92 L173.0,205.74 L174.0,206.41 L175.0,206.95 L176.0,207.38 L177.0,207.71 L178.0,207.96 L179.0,208.15 L180.0,208.30 L181.0,208.41 L182.0,208.49 L183.0,208.55 L184.0,208.60 L185.0,208.64 L186.0,208.67 L187.0,208.69 L188.0,208.71 L189.0,208.73 L190.0,208.75 L191.0,208.76 L192.0,208.78 L193.0,208.79 L194.0,208.80 L195.0,208.81 L196.0,208.82 L197.0,208.83 L198.0,208.84 L199.0,208.84 L200.0,208.85 L201.0,208.86 L202.0,208.86 L203.0,208.87 L204.0,208.87 L205.0,208.88 L206.0,208.88 L207.0,208.89 L208.0,208.89 L209.0,208.90 L210.0,208.90 L211.0,208.90 L212.0,208.91 L213.0,208.91 L214.0,208.91 L215.0,208.92 L216.0,208.92 L217.0,208.92 L218.0,208.92 L219.0,208.93 L220.0,208.93 L221.0,208.93 L222.0,208.93 L223.0,208.94 L224.0,208.94 L225.0,208.94 L226.0,208.94 L227.0,208.94 L228.0,208.94" fill="none" stroke="#ff50ff" stroke-width="1.5" stroke-linejoin="round"/>
<path d="M20.0,208.67 L21.0,208.67 L22.0,208.67 L23.0,208.67 L24.0,208.66 L25.0,208.66 L26.0,208.66 L27.0,208.66 L28.0,208.66 L29.0,208.66 L30.0,208.65 L31.0,208.65 L32.0,208.65 L33.0,208.65 L34.0,208.64 L35.0,208.64 L36.0,208.63 L37.0,208.63 L38.0,208.62 L39.0,208.61 L40.0,208.61 L41.0,208.60 L42.0,208.59 L43.0,208.58 L44.0,208.56 L45.0,208.55 L46.0,208.53 L47.0,208.52 L48.0,208.50 L49.0,208.48 L50.0,208.45 L51.0,208.43 L52.0,208.40 L53.0,208.37 L54.0,208.34 L55.0,208.30 L56.0,208.26 L57.0,208.22 L58.0,208.18 L59.0,208.13 L60.0,208.08 L61.0,208.02 L62.0,207.97 L63.0,207.90 L64.0,207.84 L65.0,207.77 L66.0,207.70 L67.0,207.62 L68.0,207.54 L69.0,207.46 L70.0,207.38 L71.0,207.29 L72.0,207.20 L73.0,207.11 L74.0,207.01 L75.0,206.92 L76.0,206.82 L77.0,206.73 L78.0,206.63 L79.0,206.53 L80.0,206.44 L81.0,206.34 L82.0,206.25 L83.0,206.16 L84.0,206.08 L85.0,205.99 L86.0,205.91 L87.0,205.84 L88.0,205.77 L89.0,205.70 L90.0,205.65 L91.0,205.59 L92.0,205.55 L93.0,205.51 L94.0,205.47 L95.0,205.45 L96.0,205.43 L97.0,205.42 L98.0,205.42 L99.0,205.42 L100.0,205.43 L101.0,205.45 L102.0,205.48 L103.0,205.51 L104.0,205.55 L105.0,205.59 L106.0,205.64 L107.0,205.69 L108.0,205.75 L109.0,205.81 L110.0,205.87 L111.0,205.93 L112.0,206.00 L113.0,206.06 L114.0,206.13 L115.0,206.18 L116.0,206.24 L117.0,206.28 L118.0,206.30 L119.0,206.31 L120.0,206.28 L121.0,206.22 L122.0,206.12 L123.0,205.95 L124.0,205.72 L125.0,205.39 L126.0,204.96 L127.0,204.41 L128.0,203.74 L129.0,202.92 L130.0,201.96 L131.0,200.86 L132.0,199.63 L133.0,198.28 L134.0,196.84 L135.0,195.35 L136.0,193.84 L137.0,192.35 L138.0,190.95 L139.0,189.66 L140.0,188.53 L141.0,187.59 L142.0,186.84 L143.0,186.28 L144.0,185.86 L145.0,185.53 L146.0,185.23 L147.0,184.91 L148.0,184.51 L149.0,183.99 L150.0,183.32 L151.0,182.50 L152.0,181.53 L153.0,180.42 L154.0,179.19 L155.0,177.86 L156.0,176.44 L157.0,174.93 L158.0,173.29 L159.0,171.48 L160.0,169.40 L161.0,166.98 L162.0,164.12 L163.0,160.76 L164.0,156.87 L165.0,152.48 L166.0,147.64 L167.0,142.47 L168.0,137.15 L169.0,131.88 L170.0,126.90 L171.0,122.46 L172.0,118.80 L173.0,116.14 L174.0,114.65 L175.0,114.47 L176.0,115.68 L177.0,118.30 L178.0,122.23 L179.0,127.32 L180.0,133.35 L181.0,140.06 L182.0,147.20 L183.0,154.50 L184.0,161.72 L185.0,168.64 L186.0,175.10 L187.0,180.98 L188.0,186.20 L189.0,190.72 L190.0,194.57 L191.0,197.76 L192.0,200.35 L193.0,202.42 L194.0,204.04 L195.0,205.28 L196.0,206.22 L197.0,206.91 L198.0,207.41 L199.0,207.76 L200.0,208.02 L201.0,208.19 L202.0,208.31 L203.0,208.39 L204.0,208.44 L205.0,208.48 L206.0,208.51 L207.0,208.52 L208.0,208.54 L209.0,208.54 L210.0,208.55 L211.0,208.56 L212.0,208.56 L213.0,208.57 L214.0,208.57 L215.0,208.58 L216.0,208.58 L217.0,208.58 L218.0,208.59 L219.0,208.59 L220.0,208.59 L221.0,208.60 L222.0,208.60 L223.0,208.60 L224.0,208.61 L225.0,208.61 L226.0,208.61 L227.0,208.61 L228.0,208.62" fill="none" stroke="#2a2ab8" stroke-width="1.8" stroke-linejoin="round"/>
<rect x="19" y="2.5" width="210" height="209.5" fill="none" stroke="#555" stroke-width="1.5"/>
<line x1="19" y1="107.3" x2="229" y2="107.3" stroke="#333" stroke-width="1.3"/>
<path d="M19.00,107.3 v4 M33.00,107.3 v2 M47.00,107.3 v4 M61.00,107.3 v2 M75.00,107.3 v4 M89.00,107.3 v2 M103.00,107.3 v4 M117.00,107.3 v2 M131.00,107.3 v4 M145.00,107.3 v2 M159.00,107.3 v4 M173.00,107.3 v2 M187.00,107.3 v4 M201.00,107.3 v2 M215.00,107.3 v4 M229.00,107.3 v2" stroke="#222" stroke-width="1.2" fill="none"/>
<path d="M19.00,212 v4 M26.00,212 v2 M33.00,212 v2 M40.00,212 v2 M47.00,212 v4 M54.00,212 v2 M61.00,212 v2 M68.00,212 v2 M75.00,212 v4 M82.00,212 v2 M89.00,212 v2 M96.00,212 v2 M103.00,212 v4 M110.00,212 v2 M117.00,212 v2 M124.00,212 v2 M131.00,212 v4 M138.00,212 v2 M145.00,212 v2 M152.00,212 v2 M159.00,212 v4 M166.00,212 v2 M173.00,212 v2 M180.00,212 v2 M187.00,212 v4 M194.00,212 v2 M201.00,212 v2 M208.00,212 v2 M215.00,212 v4 M222.00,212 v2 M229.00,212 v2" stroke="#222" stroke-width="1.2" fill="none"/>
<text x="19.00" y="226.2" text-anchor="middle" font-size="9">410</text>
<text x="47.00" y="226.2" text-anchor="middle" font-size="9">408</text>
<text x="75.00" y="226.2" text-anchor="middle" font-size="9">406</text>
<text x="103.00" y="226.2" text-anchor="middle" font-size="9">404</text>
<text x="131.00" y="226.2" text-anchor="middle" font-size="9">402</text>
<text x="159.00" y="226.2" text-anchor="middle" font-size="9">400</text>
<text x="187.00" y="226.2" text-anchor="middle" font-size="9">398</text>
<text x="215.00" y="226.2" text-anchor="middle" font-size="9">396</text>
<text x="124.00" y="243.2" text-anchor="middle" font-size="11">Binding energy (eV)</text>
<text transform="translate(9.8,109) rotate(-90)" text-anchor="middle" font-size="11">Intensity (cps)</text>
<text x="2.6" y="12.0" font-size="12.5">A</text>
<line x1="138.3" y1="112.3" x2="171.4" y2="112.3" stroke="#777" stroke-width="1.4"/>
<path d="M174.4,112.3 L169.4,110.3 L170.4,112.3 L169.4,114.3 Z" fill="#777"/>
<line x1="23.9" y1="8.9" x2="46.5" y2="8.9" stroke="#5a5a5a" stroke-width="1.7"/>
<text x="48.8" y="13.2" font-size="10">N1s mpg-CN</text>
<line x1="23.9" y1="20.9" x2="46.5" y2="20.9" stroke="#ff5050" stroke-width="1.7"/>
<text x="48.8" y="25.2" font-size="10">C-N=C</text>
<line x1="23.9" y1="34.3" x2="46.5" y2="34.3" stroke="#c8c8c8" stroke-width="1.3"/>
<text x="48.8" y="38.199999999999996" font-size="8.5">π−π<tspan font-size="10.5" dy="1.3">*</tspan></text>
<line x1="23.9" y1="46.2" x2="46.5" y2="46.2" stroke="#22a022" stroke-width="1.7"/>
<text x="48.8" y="50.7" font-size="10">C-NH<tspan font-size="7" dy="3">x</tspan></text>
<line x1="23.9" y1="60.5" x2="46.5" y2="60.5" stroke="#ff50ff" stroke-width="1.7"/>
<text x="48.8" y="65.0" font-size="10">N-C<tspan font-size="7" dy="3">3</tspan></text>
<line x1="23.9" y1="75.3" x2="46.5" y2="75.3" stroke="#2a2ab8" stroke-width="1.7"/>
<text x="48.8" y="79.6" font-size="10">envelope</text>
<line x1="21.3" y1="115.3" x2="43.8" y2="115.3" stroke="#5a5a5a" stroke-width="1.7"/>
<text x="46.7" y="118.8" font-size="10">N1s mpg-CN-Co</text>
<line x1="21.3" y1="126.7" x2="43.8" y2="126.7" stroke="#ff5050" stroke-width="1.7"/>
<text x="46.7" y="130.3" font-size="10">C-N=C</text>
<line x1="21.3" y1="139.2" x2="43.8" y2="139.2" stroke="#22a022" stroke-width="1.7"/>
<text x="46.7" y="144.0" font-size="10">C-NH<tspan font-size="7" dy="3">x</tspan></text>
<line x1="21.3" y1="154.7" x2="43.8" y2="154.7" stroke="#c8c8c8" stroke-width="1.3"/>
<text x="46.7" y="158.2" font-size="8">π−π<tspan font-size="9.5" dy="1.2">*</tspan></text>
<line x1="21.3" y1="166.3" x2="43.8" y2="166.3" stroke="#ff50ff" stroke-width="1.7"/>
<text x="46.7" y="171.10000000000002" font-size="10">N-C<tspan font-size="7" dy="3">3</tspan></text>
<line x1="21.3" y1="180" x2="43.8" y2="180" stroke="#2a2ab8" stroke-width="1.7"/>
<text x="46.7" y="184.1" font-size="10">envelope</text>
<line x1="357.6" y1="2.5" x2="357.6" y2="107.5" stroke="#7a7a7a" stroke-width="1.3" stroke-dasharray="2.5,1.5"/>
<line x1="361.1" y1="107.5" x2="361.1" y2="212" stroke="#7a7a7a" stroke-width="1.3" stroke-dasharray="2.5,1.5"/>
<path d="M268.5,104.17 L269.5,104.17 L270.5,104.16 L271.5,104.16 L272.5,104.16 L273.5,104.16 L274.5,104.16 L275.5,104.16 L276.5,104.16 L277.5,104.16 L278.5,104.16 L279.5,104.16 L280.5,104.15 L281.5,104.15 L282.5,104.15 L283.5,104.15 L284.5,104.15 L285.5,104.15 L286.5,104.15 L287.5,104.15 L288.5,104.14 L289.5,104.14 L290.5,104.14 L291.5,104.14 L292.5,104.14 L293.5,104.14 L294.5,104.13 L295.5,104.13 L296.5,104.13 L297.5,104.13 L298.5,104.12 L299.5,104.12 L300.5,104.12 L301.5,104.12 L302.5,104.11 L303.5,104.11 L304.5,104.11 L305.5,104.10 L306.5,104.10 L307.5,104.10 L308.5,104.09 L309.5,104.09 L310.5,104.08 L311.5,104.08 L312.5,104.07 L313.5,104.07 L314.5,104.06 L315.5,104.05 L316.5,104.05 L317.5,104.04 L318.5,104.03 L319.5,104.02 L320.5,104.01 L321.5,104.00 L322.5,103.99 L323.5,103.98 L324.5,103.97 L325.5,103.95 L326.5,103.93 L327.5,103.91 L328.5,103.88 L329.5,103.84 L330.5,103.78 L331.5,103.70 L332.5,103.59 L333.5,103.42 L334.5,103.19 L335.5,102.85 L336.5,102.38 L337.5,101.72 L338.5,100.81 L339.5,99.58 L340.5,97.96 L341.5,95.86 L342.5,93.20 L343.5,89.90 L344.5,85.88 L345.5,81.12 L346.5,75.61 L347.5,69.40 L348.5,62.57 L349.5,55.28 L350.5,47.73 L351.5,40.20 L352.5,32.98 L353.5,26.38 L354.5,20.74 L355.5,16.35 L356.5,13.46 L357.5,12.24 L358.5,12.79 L359.5,15.16 L360.5,19.18 L361.5,24.62 L362.5,31.16 L363.5,38.45 L364.5,46.15 L365.5,53.93 L366.5,61.48 L367.5,68.58 L368.5,75.05 L369.5,80.77 L370.5,85.71 L371.5,89.85 L372.5,93.25 L373.5,95.97 L374.5,98.10 L375.5,99.72 L376.5,100.94 L377.5,101.83 L378.5,102.48 L379.5,102.94 L380.5,103.25 L381.5,103.48 L382.5,103.63 L383.5,103.73 L384.5,103.80 L385.5,103.85 L386.5,103.89 L387.5,103.92 L388.5,103.94 L389.5,103.96 L390.5,103.97 L391.5,103.99 L392.5,104.00 L393.5,104.01 L394.5,104.02 L395.5,104.03 L396.5,104.04 L397.5,104.04 L398.5,104.05 L399.5,104.06 L400.5,104.06 L401.5,104.07 L402.5,104.08 L403.5,104.08 L404.5,104.09 L405.5,104.09 L406.5,104.10 L407.5,104.10 L408.5,104.10 L409.5,104.11 L410.5,104.11 L411.5,104.11 L412.5,104.12 L413.5,104.12 L414.5,104.12 L415.5,104.12 L416.5,104.13 L417.5,104.13 L418.5,104.13 L419.5,104.13 L420.5,104.14 L421.5,104.14 L422.5,104.14 L423.5,104.14 L424.5,104.14 L425.5,104.14 L426.5,104.15 L427.5,104.15 L428.5,104.15 L429.5,104.15 L430.5,104.15 L431.5,104.15 L432.5,104.15 L433.5,104.16 L434.5,104.16 L435.5,104.16 L436.5,104.16 L437.5,104.16 L438.5,104.16 L439.5,104.16 L440.5,104.16 L441.5,104.16 L442.5,104.16 L443.5,104.17 L444.5,104.17 L445.5,104.17 L446.5,104.17 L447.5,104.17 L448.5,104.17 L449.5,104.17 L450.5,104.17 L451.5,104.17 L452.5,104.17 L453.5,104.17 L454.5,104.17 L455.5,104.17 L456.5,104.17 L457.5,104.17 L458.5,104.17 L459.5,104.18 L460.5,104.18 L461.5,104.18 L462.5,104.18 L463.5,104.18 L464.5,104.18 L465.5,104.18 L466.5,104.18 L467.5,104.18 L468.5,104.18 L469.5,104.18 L470.5,104.18 L471.5,104.18 L472.5,104.18 L473.5,104.18 L474.5,104.18 L475.5,104.18" fill="none" stroke="#ff5050" stroke-width="1.5" stroke-linejoin="round"/>
<path d="M268.5,104.20 L269.5,104.20 L270.5,104.20 L271.5,104.20 L272.5,104.20 L273.5,104.20 L274.5,104.20 L275.5,104.20 L276.5,104.20 L277.5,104.20 L278.5,104.20 L279.5,104.20 L280.5,104.20 L281.5,104.20 L282.5,104.20 L283.5,104.20 L284.5,104.20 L285.5,104.20 L286.5,104.20 L287.5,104.20 L288.5,104.20 L289.5,104.20 L290.5,104.20 L291.5,104.20 L292.5,104.20 L293.5,104.20 L294.5,104.20 L295.5,104.20 L296.5,104.20 L297.5,104.20 L298.5,104.20 L299.5,104.20 L300.5,104.20 L301.5,104.20 L302.5,104.20 L303.5,104.20 L304.5,104.20 L305.5,104.20 L306.5,104.20 L307.5,104.20 L308.5,104.20 L309.5,104.20 L310.5,104.20 L311.5,104.20 L312.5,104.20 L313.5,104.20 L314.5,104.20 L315.5,104.20 L316.5,104.20 L317.5,104.20 L318.5,104.20 L319.5,104.20 L320.5,104.20 L321.5,104.20 L322.5,104.20 L323.5,104.20 L324.5,104.20 L325.5,104.20 L326.5,104.20 L327.5,104.20 L328.5,104.20 L329.5,104.20 L330.5,104.20 L331.5,104.20 L332.5,104.20 L333.5,104.20 L334.5,104.20 L335.5,104.20 L336.5,104.20 L337.5,104.20 L338.5,104.20 L339.5,104.20 L340.5,104.20 L341.5,104.20 L342.5,104.20 L343.5,104.20 L344.5,104.20 L345.5,104.20 L346.5,104.20 L347.5,104.20 L348.5,104.20 L349.5,104.20 L350.5,104.20 L351.5,104.20 L352.5,104.20 L353.5,104.20 L354.5,104.20 L355.5,104.20 L356.5,104.20 L357.5,104.20 L358.5,104.20 L359.5,104.20 L360.5,104.20 L361.5,104.20 L362.5,104.20 L363.5,104.20 L364.5,104.20 L365.5,104.20 L366.5,104.20 L367.5,104.20 L368.5,104.20 L369.5,104.20 L370.5,104.20 L371.5,104.20 L372.5,104.20 L373.5,104.20 L374.5,104.20 L375.5,104.20 L376.5,104.20 L377.5,104.20 L378.5,104.20 L379.5,104.20 L380.5,104.19 L381.5,104.19 L382.5,104.18 L383.5,104.17 L384.5,104.15 L385.5,104.12 L386.5,104.08 L387.5,104.01 L388.5,103.92 L389.5,103.78 L390.5,103.59 L391.5,103.34 L392.5,102.99 L393.5,102.54 L394.5,101.97 L395.5,101.25 L396.5,100.38 L397.5,99.35 L398.5,98.16 L399.5,96.82 L400.5,95.35 L401.5,93.79 L402.5,92.20 L403.5,90.62 L404.5,89.13 L405.5,87.79 L406.5,86.68 L407.5,85.85 L408.5,85.35 L409.5,85.20 L410.5,85.42 L411.5,85.99 L412.5,86.88 L413.5,88.04 L414.5,89.42 L415.5,90.93 L416.5,92.52 L417.5,94.11 L418.5,95.65 L419.5,97.10 L420.5,98.41 L421.5,99.57 L422.5,100.57 L423.5,101.41 L424.5,102.09 L425.5,102.64 L426.5,103.07 L427.5,103.39 L428.5,103.64 L429.5,103.81 L430.5,103.94 L431.5,104.03 L432.5,104.09 L433.5,104.13 L434.5,104.16 L435.5,104.17 L436.5,104.18 L437.5,104.19 L438.5,104.19 L439.5,104.20 L440.5,104.20 L441.5,104.20 L442.5,104.20 L443.5,104.20 L444.5,104.20 L445.5,104.20 L446.5,104.20 L447.5,104.20 L448.5,104.20 L449.5,104.20 L450.5,104.20 L451.5,104.20 L452.5,104.20 L453.5,104.20 L454.5,104.20 L455.5,104.20 L456.5,104.20 L457.5,104.20 L458.5,104.20 L459.5,104.20 L460.5,104.20 L461.5,104.20 L462.5,104.20 L463.5,104.20 L464.5,104.20 L465.5,104.20 L466.5,104.20 L467.5,104.20 L468.5,104.20 L469.5,104.20 L470.5,104.20 L471.5,104.20 L472.5,104.20 L473.5,104.20 L474.5,104.20 L475.5,104.20" fill="none" stroke="#a0a0a0" stroke-width="1.5" stroke-linejoin="round"/>
<path d="M268.5,104.20 L269.5,104.20 L270.5,104.20 L271.5,104.20 L272.5,104.20 L273.5,104.20 L274.5,104.20 L275.5,104.20 L276.5,104.20 L277.5,104.20 L278.5,104.20 L279.5,104.20 L280.5,104.20 L281.5,104.20 L282.5,104.20 L283.5,104.20 L284.5,104.20 L285.5,104.20 L286.5,104.20 L287.5,104.20 L288.5,104.20 L289.5,104.20 L290.5,104.20 L291.5,104.20 L292.5,104.20 L293.5,104.20 L294.5,104.20 L295.5,104.20 L296.5,104.20 L297.5,104.20 L298.5,104.20 L299.5,104.20 L300.5,104.20 L301.5,104.20 L302.5,104.20 L303.5,104.20 L304.5,104.20 L305.5,104.20 L306.5,104.20 L307.5,104.20 L308.5,104.20 L309.5,104.20 L310.5,104.20 L311.5,104.20 L312.5,104.20 L313.5,104.20 L314.5,104.20 L315.5,104.20 L316.5,104.20 L317.5,104.20 L318.5,104.20 L319.5,104.20 L320.5,104.20 L321.5,104.20 L322.5,104.20 L323.5,104.20 L324.5,104.20 L325.5,104.20 L326.5,104.20 L327.5,104.20 L328.5,104.20 L329.5,104.20 L330.5,104.20 L331.5,104.20 L332.5,104.20 L333.5,104.20 L334.5,104.20 L335.5,104.20 L336.5,104.20 L337.5,104.20 L338.5,104.20 L339.5,104.20 L340.5,104.20 L341.5,104.20 L342.5,104.20 L343.5,104.20 L344.5,104.20 L345.5,104.20 L346.5,104.20 L347.5,104.20 L348.5,104.20 L349.5,104.20 L350.5,104.20 L351.5,104.20 L352.5,104.20 L353.5,104.20 L354.5,104.20 L355.5,104.20 L356.5,104.20 L357.5,104.20 L358.5,104.20 L359.5,104.20 L360.5,104.20 L361.5,104.20 L362.5,104.20 L363.5,104.20 L364.5,104.20 L365.5,104.20 L366.5,104.19 L367.5,104.19 L368.5,104.18 L369.5,104.16 L370.5,104.13 L371.5,104.09 L372.5,104.02 L373.5,103.93 L374.5,103.78 L375.5,103.59 L376.5,103.33 L377.5,102.98 L378.5,102.55 L379.5,102.03 L380.5,101.42 L381.5,100.74 L382.5,100.01 L383.5,99.26 L384.5,98.54 L385.5,97.90 L386.5,97.37 L387.5,97.00 L388.5,96.82 L389.5,96.84 L390.5,97.06 L391.5,97.46 L392.5,98.02 L393.5,98.68 L394.5,99.41 L395.5,100.16 L396.5,100.88 L397.5,101.55 L398.5,102.14 L399.5,102.65 L400.5,103.06 L401.5,103.38 L402.5,103.63 L403.5,103.82 L404.5,103.95 L405.5,104.04 L406.5,104.10 L407.5,104.14 L408.5,104.16 L409.5,104.18 L410.5,104.19 L411.5,104.19 L412.5,104.20 L413.5,104.20 L414.5,104.20 L415.5,104.20 L416.5,104.20 L417.5,104.20 L418.5,104.20 L419.5,104.20 L420.5,104.20 L421.5,104.20 L422.5,104.20 L423.5,104.20 L424.5,104.20 L425.5,104.20 L426.5,104.20 L427.5,104.20 L428.5,104.20 L429.5,104.20 L430.5,104.20 L431.5,104.20 L432.5,104.20 L433.5,104.20 L434.5,104.20 L435.5,104.20 L436.5,104.20 L437.5,104.20 L438.5,104.20 L439.5,104.20 L440.5,104.20 L441.5,104.20 L442.5,104.20 L443.5,104.20 L444.5,104.20 L445.5,104.20 L446.5,104.20 L447.5,104.20 L448.5,104.20 L449.5,104.20 L450.5,104.20 L451.5,104.20 L452.5,104.20 L453.5,104.20 L454.5,104.20 L455.5,104.20 L456.5,104.20 L457.5,104.20 L458.5,104.20 L459.5,104.20 L460.5,104.20 L461.5,104.20 L462.5,104.20 L463.5,104.20 L464.5,104.20 L465.5,104.20 L466.5,104.20 L467.5,104.20 L468.5,104.20 L469.5,104.20 L470.5,104.20 L471.5,104.20 L472.5,104.20 L473.5,104.20 L474.5,104.20 L475.5,104.20" fill="none" stroke="#22a022" stroke-width="1.5" stroke-linejoin="round"/>
<path d="M268.5,104.20 L269.5,104.19 L270.5,104.19 L271.5,104.19 L272.5,104.19 L273.5,104.19 L274.5,104.19 L275.5,104.19 L276.5,104.19 L277.5,104.19 L278.5,104.19 L279.5,104.19 L280.5,104.19 L281.5,104.19 L282.5,104.19 L283.5,104.19 L284.5,104.19 L285.5,104.19 L286.5,104.19 L287.5,104.19 L288.5,104.19 L289.5,104.19 L290.5,104.19 L291.5,104.19 L292.5,104.19 L293.5,104.19 L294.5,104.19 L295.5,104.19 L296.5,104.19 L297.5,104.19 L298.5,104.19 L299.5,104.19 L300.5,104.19 L301.5,104.18 L302.5,104.18 L303.5,104.18 L304.5,104.18 L305.5,104.18 L306.5,104.18 L307.5,104.18 L308.5,104.18 L309.5,104.18 L310.5,104.18 L311.5,104.17 L312.5,104.17 L313.5,104.17 L314.5,104.17 L315.5,104.16 L316.5,104.16 L317.5,104.16 L318.5,104.15 L319.5,104.14 L320.5,104.12 L321.5,104.10 L322.5,104.06 L323.5,104.02 L324.5,103.95 L325.5,103.85 L326.5,103.72 L327.5,103.54 L328.5,103.31 L329.5,103.02 L330.5,102.65 L331.5,102.20 L332.5,101.68 L333.5,101.07 L334.5,100.40 L335.5,99.67 L336.5,98.92 L337.5,98.16 L338.5,97.45 L339.5,96.80 L340.5,96.26 L341.5,95.87 L342.5,95.65 L343.5,95.61 L344.5,95.78 L345.5,96.16 L346.5,96.72 L347.5,97.41 L348.5,98.18 L349.5,98.99 L350.5,99.81 L351.5,100.58 L352.5,101.28 L353.5,101.91 L354.5,102.44 L355.5,102.87 L356.5,103.22 L357.5,103.49 L358.5,103.69 L359.5,103.84 L360.5,103.94 L361.5,104.02 L362.5,104.07 L363.5,104.10 L364.5,104.13 L365.5,104.14 L366.5,104.15 L367.5,104.16 L368.5,104.16 L369.5,104.17 L370.5,104.17 L371.5,104.17 L372.5,104.17 L373.5,104.18 L374.5,104.18 L375.5,104.18 L376.5,104.18 L377.5,104.18 L378.5,104.18 L379.5,104.18 L380.5,104.18 L381.5,104.18 L382.5,104.19 L383.5,104.19 L384.5,104.19 L385.5,104.19 L386.5,104.19 L387.5,104.19 L388.5,104.19 L389.5,104.19 L390.5,104.19 L391.5,104.19 L392.5,104.19 L393.5,104.19 L394.5,104.19 L395.5,104.19 L396.5,104.19 L397.5,104.19 L398.5,104.19 L399.5,104.19 L400.5,104.19 L401.5,104.19 L402.5,104.19 L403.5,104.19 L404.5,104.19 L405.5,104.19 L406.5,104.19 L407.5,104.19 L408.5,104.19 L409.5,104.19 L410.5,104.19 L411.5,104.19 L412.5,104.20 L413.5,104.20 L414.5,104.20 L415.5,104.20 L416.5,104.20 L417.5,104.20 L418.5,104.20 L419.5,104.20 L420.5,104.20 L421.5,104.20 L422.5,104.20 L423.5,104.20 L424.5,104.20 L425.5,104.20 L426.5,104.20 L427.5,104.20 L428.5,104.20 L429.5,104.20 L430.5,104.20 L431.5,104.20 L432.5,104.20 L433.5,104.20 L434.5,104.20 L435.5,104.20 L436.5,104.20 L437.5,104.20 L438.5,104.20 L439.5,104.20 L440.5,104.20 L441.5,104.20 L442.5,104.20 L443.5,104.20 L444.5,104.20 L445.5,104.20 L446.5,104.20 L447.5,104.20 L448.5,104.20 L449.5,104.20 L450.5,104.20 L451.5,104.20 L452.5,104.20 L453.5,104.20 L454.5,104.20 L455.5,104.20 L456.5,104.20 L457.5,104.20 L458.5,104.20 L459.5,104.20 L460.5,104.20 L461.5,104.20 L462.5,104.20 L463.5,104.20 L464.5,104.20 L465.5,104.20 L466.5,104.20 L467.5,104.20 L468.5,104.20 L469.5,104.20 L470.5,104.20 L471.5,104.20 L472.5,104.20 L473.5,104.20 L474.5,104.20 L475.5,104.20" fill="none" stroke="#20b8f0" stroke-width="1.5" stroke-linejoin="round"/>
<path d="M268.5,104.16 L269.5,104.16 L270.5,104.16 L271.5,104.16 L272.5,104.16 L273.5,104.16 L274.5,104.16 L275.5,104.15 L276.5,104.15 L277.5,104.15 L278.5,104.15 L279.5,104.15 L280.5,104.15 L281.5,104.15 L282.5,104.15 L283.5,104.14 L284.5,104.14 L285.5,104.14 L286.5,104.14 L287.5,104.14 L288.5,104.14 L289.5,104.13 L290.5,104.13 L291.5,104.13 L292.5,104.13 L293.5,104.12 L294.5,104.12 L295.5,104.12 L296.5,104.12 L297.5,104.11 L298.5,104.11 L299.5,104.11 L300.5,104.10 L301.5,104.10 L302.5,104.10 L303.5,104.09 L304.5,104.09 L305.5,104.08 L306.5,104.08 L307.5,104.07 L308.5,104.06 L309.5,104.06 L310.5,104.04 L311.5,104.03 L312.5,104.01 L313.5,103.99 L314.5,103.96 L315.5,103.92 L316.5,103.88 L317.5,103.82 L318.5,103.75 L319.5,103.66 L320.5,103.55 L321.5,103.41 L322.5,103.26 L323.5,103.08 L324.5,102.87 L325.5,102.63 L326.5,102.35 L327.5,102.03 L328.5,101.67 L329.5,101.25 L330.5,100.76 L331.5,100.21 L332.5,99.57 L333.5,98.83 L334.5,97.98 L335.5,97.00 L336.5,95.88 L337.5,94.58 L338.5,93.08 L339.5,91.34 L340.5,89.31 L341.5,86.94 L342.5,84.16 L343.5,80.92 L344.5,77.16 L345.5,72.85 L346.5,67.96 L347.5,62.47 L348.5,56.45 L349.5,50.01 L350.5,43.30 L351.5,36.55 L352.5,30.04 L353.5,24.07 L354.5,18.97 L355.5,15.01 L356.5,12.47 L357.5,11.52 L358.5,12.28 L359.5,14.79 L360.5,18.92 L361.5,24.43 L362.5,31.01 L363.5,38.34 L364.5,46.04 L365.5,53.80 L366.5,61.31 L367.5,68.33 L368.5,74.69 L369.5,80.25 L370.5,84.98 L371.5,88.86 L372.5,91.96 L373.5,94.34 L374.5,96.11 L375.5,97.39 L376.5,98.26 L377.5,98.81 L378.5,99.11 L379.5,99.20 L380.5,99.12 L381.5,98.90 L382.5,98.55 L383.5,98.12 L384.5,97.64 L385.5,97.16 L386.5,96.73 L387.5,96.40 L388.5,96.20 L389.5,96.13 L390.5,96.20 L391.5,96.37 L392.5,96.59 L393.5,96.82 L394.5,96.99 L395.5,97.03 L396.5,96.89 L397.5,96.54 L398.5,95.95 L399.5,95.11 L400.5,94.07 L401.5,92.84 L402.5,91.50 L403.5,90.11 L404.5,88.76 L405.5,87.52 L406.5,86.47 L407.5,85.68 L408.5,85.21 L409.5,85.08 L410.5,85.31 L411.5,85.89 L412.5,86.79 L413.5,87.96 L414.5,89.33 L415.5,90.85 L416.5,92.44 L417.5,94.03 L418.5,95.58 L419.5,97.03 L420.5,98.34 L421.5,99.51 L422.5,100.51 L423.5,101.35 L424.5,102.03 L425.5,102.58 L426.5,103.01 L427.5,103.34 L428.5,103.58 L429.5,103.76 L430.5,103.89 L431.5,103.98 L432.5,104.04 L433.5,104.08 L434.5,104.11 L435.5,104.13 L436.5,104.14 L437.5,104.15 L438.5,104.15 L439.5,104.16 L440.5,104.16 L441.5,104.16 L442.5,104.16 L443.5,104.16 L444.5,104.16 L445.5,104.16 L446.5,104.17 L447.5,104.17 L448.5,104.17 L449.5,104.17 L450.5,104.17 L451.5,104.17 L452.5,104.17 L453.5,104.17 L454.5,104.17 L455.5,104.17 L456.5,104.17 L457.5,104.17 L458.5,104.17 L459.5,104.17 L460.5,104.17 L461.5,104.17 L462.5,104.18 L463.5,104.18 L464.5,104.18 L465.5,104.18 L466.5,104.18 L467.5,104.18 L468.5,104.18 L469.5,104.18 L470.5,104.18 L471.5,104.18 L472.5,104.18 L473.5,104.18 L474.5,104.18 L475.5,104.18" fill="none" stroke="#2a2ab8" stroke-width="1.8" stroke-linejoin="round"/>
<path d="M268.5,209.87 L269.5,209.87 L270.5,209.87 L271.5,209.87 L272.5,209.87 L273.5,209.87 L274.5,209.87 L275.5,209.87 L276.5,209.87 L277.5,209.87 L278.5,209.87 L279.5,209.87 L280.5,209.86 L281.5,209.86 L282.5,209.86 L283.5,209.86 L284.5,209.86 L285.5,209.86 L286.5,209.86 L287.5,209.86 L288.5,209.86 L289.5,209.85 L290.5,209.85 L291.5,209.85 L292.5,209.85 L293.5,209.85 L294.5,209.85 L295.5,209.85 L296.5,209.84 L297.5,209.84 L298.5,209.84 L299.5,209.84 L300.5,209.84 L301.5,209.84 L302.5,209.83 L303.5,209.83 L304.5,209.83 L305.5,209.83 L306.5,209.82 L307.5,209.82 L308.5,209.82 L309.5,209.81 L310.5,209.81 L311.5,209.81 L312.5,209.80 L313.5,209.80 L314.5,209.79 L315.5,209.79 L316.5,209.79 L317.5,209.78 L318.5,209.77 L319.5,209.77 L320.5,209.76 L321.5,209.76 L322.5,209.75 L323.5,209.74 L324.5,209.73 L325.5,209.72 L326.5,209.71 L327.5,209.70 L328.5,209.69 L329.5,209.68 L330.5,209.66 L331.5,209.64 L332.5,209.62 L333.5,209.58 L334.5,209.54 L335.5,209.48 L336.5,209.39 L337.5,209.26 L338.5,209.07 L339.5,208.79 L340.5,208.38 L341.5,207.80 L342.5,206.98 L343.5,205.84 L344.5,204.31 L345.5,202.28 L346.5,199.67 L347.5,196.37 L348.5,192.31 L349.5,187.44 L350.5,181.77 L351.5,175.34 L352.5,168.28 L353.5,160.76 L354.5,153.04 L355.5,145.44 L356.5,138.30 L357.5,132.00 L358.5,126.90 L359.5,123.31 L360.5,121.46 L361.5,121.45 L362.5,123.10 L363.5,126.29 L364.5,130.83 L365.5,136.48 L366.5,142.95 L367.5,149.94 L368.5,157.15 L369.5,164.31 L370.5,171.18 L371.5,177.58 L372.5,183.39 L373.5,188.51 L374.5,192.93 L375.5,196.64 L376.5,199.70 L377.5,202.16 L378.5,204.10 L379.5,205.59 L380.5,206.73 L381.5,207.57 L382.5,208.19 L383.5,208.63 L384.5,208.94 L385.5,209.16 L386.5,209.31 L387.5,209.42 L388.5,209.50 L389.5,209.55 L390.5,209.59 L391.5,209.62 L392.5,209.64 L393.5,209.66 L394.5,209.67 L395.5,209.69 L396.5,209.70 L397.5,209.71 L398.5,209.72 L399.5,209.73 L400.5,209.74 L401.5,209.74 L402.5,209.75 L403.5,209.76 L404.5,209.76 L405.5,209.77 L406.5,209.78 L407.5,209.78 L408.5,209.79 L409.5,209.79 L410.5,209.79 L411.5,209.80 L412.5,209.80 L413.5,209.81 L414.5,209.81 L415.5,209.81 L416.5,209.82 L417.5,209.82 L418.5,209.82 L419.5,209.82 L420.5,209.83 L421.5,209.83 L422.5,209.83 L423.5,209.83 L424.5,209.83 L425.5,209.84 L426.5,209.84 L427.5,209.84 L428.5,209.84 L429.5,209.84 L430.5,209.85 L431.5,209.85 L432.5,209.85 L433.5,209.85 L434.5,209.85 L435.5,209.85 L436.5,209.85 L437.5,209.85 L438.5,209.86 L439.5,209.86 L440.5,209.86 L441.5,209.86 L442.5,209.86 L443.5,209.86 L444.5,209.86 L445.5,209.86 L446.5,209.86 L447.5,209.86 L448.5,209.87 L449.5,209.87 L450.5,209.87 L451.5,209.87 L452.5,209.87 L453.5,209.87 L454.5,209.87 L455.5,209.87 L456.5,209.87 L457.5,209.87 L458.5,209.87 L459.5,209.87 L460.5,209.87 L461.5,209.87 L462.5,209.87 L463.5,209.87 L464.5,209.88 L465.5,209.88 L466.5,209.88 L467.5,209.88 L468.5,209.88 L469.5,209.88 L470.5,209.88 L471.5,209.88 L472.5,209.88 L473.5,209.88 L474.5,209.88 L475.5,209.88" fill="none" stroke="#ff3030" stroke-width="1.5" stroke-linejoin="round"/>
<path d="M268.5,209.90 L269.5,209.90 L270.5,209.90 L271.5,209.90 L272.5,209.90 L273.5,209.90 L274.5,209.90 L275.5,209.90 L276.5,209.90 L277.5,209.90 L278.5,209.90 L279.5,209.90 L280.5,209.90 L281.5,209.90 L282.5,209.90 L283.5,209.90 L284.5,209.90 L285.5,209.90 L286.5,209.90 L287.5,209.90 L288.5,209.90 L289.5,209.90 L290.5,209.90 L291.5,209.90 L292.5,209.90 L293.5,209.90 L294.5,209.90 L295.5,209.90 L296.5,209.90 L297.5,209.90 L298.5,209.90 L299.5,209.90 L300.5,209.90 L301.5,209.90 L302.5,209.90 L303.5,209.90 L304.5,209.90 L305.5,209.90 L306.5,209.90 L307.5,209.90 L308.5,209.90 L309.5,209.90 L310.5,209.90 L311.5,209.90 L312.5,209.90 L313.5,209.90 L314.5,209.90 L315.5,209.90 L316.5,209.90 L317.5,209.90 L318.5,209.90 L319.5,209.90 L320.5,209.90 L321.5,209.90 L322.5,209.90 L323.5,209.90 L324.5,209.90 L325.5,209.90 L326.5,209.90 L327.5,209.90 L328.5,209.90 L329.5,209.90 L330.5,209.90 L331.5,209.90 L332.5,209.90 L333.5,209.90 L334.5,209.90 L335.5,209.90 L336.5,209.90 L337.5,209.90 L338.5,209.90 L339.5,209.90 L340.5,209.90 L341.5,209.90 L342.5,209.90 L343.5,209.90 L344.5,209.90 L345.5,209.90 L346.5,209.90 L347.5,209.90 L348.5,209.90 L349.5,209.90 L350.5,209.90 L351.5,209.90 L352.5,209.90 L353.5,209.90 L354.5,209.90 L355.5,209.90 L356.5,209.90 L357.5,209.90 L358.5,209.90 L359.5,209.90 L360.5,209.90 L361.5,209.90 L362.5,209.90 L363.5,209.90 L364.5,209.90 L365.5,209.90 L366.5,209.90 L367.5,209.89 L368.5,209.89 L369.5,209.88 L370.5,209.87 L371.5,209.85 L372.5,209.81 L373.5,209.76 L374.5,209.68 L375.5,209.57 L376.5,209.42 L377.5,209.23 L378.5,208.97 L379.5,208.66 L380.5,208.29 L381.5,207.87 L382.5,207.41 L383.5,206.93 L384.5,206.46 L385.5,206.03 L386.5,205.66 L387.5,205.39 L388.5,205.23 L389.5,205.20 L390.5,205.27 L391.5,205.42 L392.5,205.64 L393.5,205.92 L394.5,206.25 L395.5,206.61 L396.5,206.99 L397.5,207.37 L398.5,207.74 L399.5,208.09 L400.5,208.41 L401.5,208.70 L402.5,208.94 L403.5,209.15 L404.5,209.33 L405.5,209.47 L406.5,209.58 L407.5,209.67 L408.5,209.74 L409.5,209.78 L410.5,209.82 L411.5,209.85 L412.5,209.86 L413.5,209.88 L414.5,209.89 L415.5,209.89 L416.5,209.89 L417.5,209.90 L418.5,209.90 L419.5,209.90 L420.5,209.90 L421.5,209.90 L422.5,209.90 L423.5,209.90 L424.5,209.90 L425.5,209.90 L426.5,209.90 L427.5,209.90 L428.5,209.90 L429.5,209.90 L430.5,209.90 L431.5,209.90 L432.5,209.90 L433.5,209.90 L434.5,209.90 L435.5,209.90 L436.5,209.90 L437.5,209.90 L438.5,209.90 L439.5,209.90 L440.5,209.90 L441.5,209.90 L442.5,209.90 L443.5,209.90 L444.5,209.90 L445.5,209.90 L446.5,209.90 L447.5,209.90 L448.5,209.90 L449.5,209.90 L450.5,209.90 L451.5,209.90 L452.5,209.90 L453.5,209.90 L454.5,209.90 L455.5,209.90 L456.5,209.90 L457.5,209.90 L458.5,209.90 L459.5,209.90 L460.5,209.90 L461.5,209.90 L462.5,209.90 L463.5,209.90 L464.5,209.90 L465.5,209.90 L466.5,209.90 L467.5,209.90 L468.5,209.90 L469.5,209.90 L470.5,209.90 L471.5,209.90 L472.5,209.90 L473.5,209.90 L474.5,209.90 L475.5,209.90" fill="none" stroke="#22a022" stroke-width="1.5" stroke-linejoin="round"/>
<path d="M268.5,209.90 L269.5,209.90 L270.5,209.90 L271.5,209.90 L272.5,209.90 L273.5,209.90 L274.5,209.90 L275.5,209.90 L276.5,209.90 L277.5,209.90 L278.5,209.90 L279.5,209.90 L280.5,209.90 L281.5,209.90 L282.5,209.90 L283.5,209.90 L284.5,209.90 L285.5,209.90 L286.5,209.90 L287.5,209.90 L288.5,209.90 L289.5,209.90 L290.5,209.90 L291.5,209.90 L292.5,209.90 L293.5,209.90 L294.5,209.90 L295.5,209.90 L296.5,209.90 L297.5,209.90 L298.5,209.90 L299.5,209.90 L300.5,209.90 L301.5,209.90 L302.5,209.90 L303.5,209.90 L304.5,209.90 L305.5,209.90 L306.5,209.90 L307.5,209.90 L308.5,209.90 L309.5,209.90 L310.5,209.90 L311.5,209.90 L312.5,209.90 L313.5,209.90 L314.5,209.90 L315.5,209.90 L316.5,209.90 L317.5,209.90 L318.5,209.90 L319.5,209.90 L320.5,209.90 L321.5,209.90 L322.5,209.90 L323.5,209.90 L324.5,209.90 L325.5,209.90 L326.5,209.90 L327.5,209.90 L328.5,209.90 L329.5,209.90 L330.5,209.90 L331.5,209.90 L332.5,209.90 L333.5,209.90 L334.5,209.90 L335.5,209.90 L336.5,209.90 L337.5,209.90 L338.5,209.90 L339.5,209.90 L340.5,209.90 L341.5,209.90 L342.5,209.90 L343.5,209.90 L344.5,209.90 L345.5,209.90 L346.5,209.90 L347.5,209.90 L348.5,209.90 L349.5,209.90 L350.5,209.90 L351.5,209.90 L352.5,209.90 L353.5,209.90 L354.5,209.90 L355.5,209.90 L356.5,209.90 L357.5,209.90 L358.5,209.90 L359.5,209.90 L360.5,209.90 L361.5,209.90 L362.5,209.90 L363.5,209.90 L364.5,209.90 L365.5,209.90 L366.5,209.90 L367.5,209.90 L368.5,209.90 L369.5,209.90 L370.5,209.90 L371.5,209.90 L372.5,209.90 L373.5,209.90 L374.5,209.90 L375.5,209.90 L376.5,209.90 L377.5,209.90 L378.5,209.89 L379.5,209.89 L380.5,209.89 L381.5,209.88 L382.5,209.87 L383.5,209.86 L384.5,209.84 L385.5,209.81 L386.5,209.78 L387.5,209.73 L388.5,209.67 L389.5,209.59 L390.5,209.49 L391.5,209.37 L392.5,209.22 L393.5,209.05 L394.5,208.84 L395.5,208.61 L396.5,208.35 L397.5,208.07 L398.5,207.77 L399.5,207.45 L400.5,207.14 L401.5,206.84 L402.5,206.55 L403.5,206.30 L404.5,206.09 L405.5,205.92 L406.5,205.82 L407.5,205.78 L408.5,205.81 L409.5,205.91 L410.5,206.08 L411.5,206.32 L412.5,206.59 L413.5,206.91 L414.5,207.24 L415.5,207.58 L416.5,207.91 L417.5,208.23 L418.5,208.52 L419.5,208.78 L420.5,209.01 L421.5,209.21 L422.5,209.37 L423.5,209.50 L424.5,209.61 L425.5,209.69 L426.5,209.75 L427.5,209.79 L428.5,209.83 L429.5,209.85 L430.5,209.87 L431.5,209.88 L432.5,209.89 L433.5,209.89 L434.5,209.89 L435.5,209.90 L436.5,209.90 L437.5,209.90 L438.5,209.90 L439.5,209.90 L440.5,209.90 L441.5,209.90 L442.5,209.90 L443.5,209.90 L444.5,209.90 L445.5,209.90 L446.5,209.90 L447.5,209.90 L448.5,209.90 L449.5,209.90 L450.5,209.90 L451.5,209.90 L452.5,209.90 L453.5,209.90 L454.5,209.90 L455.5,209.90 L456.5,209.90 L457.5,209.90 L458.5,209.90 L459.5,209.90 L460.5,209.90 L461.5,209.90 L462.5,209.90 L463.5,209.90 L464.5,209.90 L465.5,209.90 L466.5,209.90 L467.5,209.90 L468.5,209.90 L469.5,209.90 L470.5,209.90 L471.5,209.90 L472.5,209.90 L473.5,209.90 L474.5,209.90 L475.5,209.90" fill="none" stroke="#a0a0a0" stroke-width="1.5" stroke-linejoin="round"/>
<path d="M268.5,209.89 L269.5,209.89 L270.5,209.89 L271.5,209.89 L272.5,209.88 L273.5,209.88 L274.5,209.88 L275.5,209.88 L276.5,209.88 L277.5,209.88 L278.5,209.88 L279.5,209.88 L280.5,209.88 L281.5,209.88 L282.5,209.88 L283.5,209.88 L284.5,209.88 L285.5,209.88 L286.5,209.88 L287.5,209.88 L288.5,209.88 L289.5,209.87 L290.5,209.87 L291.5,209.87 L292.5,209.87 L293.5,209.87 L294.5,209.87 L295.5,209.87 L296.5,209.87 L297.5,209.87 L298.5,209.87 L299.5,209.86 L300.5,209.86 L301.5,209.86 L302.5,209.86 L303.5,209.86 L304.5,209.86 L305.5,209.85 L306.5,209.85 L307.5,209.85 L308.5,209.85 L309.5,209.84 L310.5,209.84 L311.5,209.84 L312.5,209.84 L313.5,209.83 L314.5,209.83 L315.5,209.82 L316.5,209.82 L317.5,209.81 L318.5,209.81 L319.5,209.80 L320.5,209.79 L321.5,209.78 L322.5,209.76 L323.5,209.74 L324.5,209.71 L325.5,209.67 L326.5,209.62 L327.5,209.55 L328.5,209.45 L329.5,209.32 L330.5,209.14 L331.5,208.92 L332.5,208.64 L333.5,208.29 L334.5,207.85 L335.5,207.33 L336.5,206.72 L337.5,206.01 L338.5,205.22 L339.5,204.34 L340.5,203.40 L341.5,202.42 L342.5,201.42 L343.5,200.45 L344.5,199.54 L345.5,198.73 L346.5,198.05 L347.5,197.56 L348.5,197.27 L349.5,197.21 L350.5,197.41 L351.5,197.88 L352.5,198.59 L353.5,199.48 L354.5,200.50 L355.5,201.60 L356.5,202.72 L357.5,203.81 L358.5,204.83 L359.5,205.76 L360.5,206.58 L361.5,207.29 L362.5,207.87 L363.5,208.35 L364.5,208.73 L365.5,209.02 L366.5,209.24 L367.5,209.41 L368.5,209.53 L369.5,209.61 L370.5,209.67 L371.5,209.72 L372.5,209.75 L373.5,209.77 L374.5,209.78 L375.5,209.80 L376.5,209.81 L377.5,209.81 L378.5,209.82 L379.5,209.83 L380.5,209.83 L381.5,209.83 L382.5,209.84 L383.5,209.84 L384.5,209.84 L385.5,209.85 L386.5,209.85 L387.5,209.85 L388.5,209.85 L389.5,209.86 L390.5,209.86 L391.5,209.86 L392.5,209.86 L393.5,209.86 L394.5,209.87 L395.5,209.87 L396.5,209.87 L397.5,209.87 L398.5,209.87 L399.5,209.87 L400.5,209.87 L401.5,209.87 L402.5,209.87 L403.5,209.88 L404.5,209.88 L405.5,209.88 L406.5,209.88 L407.5,209.88 L408.5,209.88 L409.5,209.88 L410.5,209.88 L411.5,209.88 L412.5,209.88 L413.5,209.88 L414.5,209.88 L415.5,209.88 L416.5,209.88 L417.5,209.88 L418.5,209.89 L419.5,209.89 L420.5,209.89 L421.5,209.89 L422.5,209.89 L423.5,209.89 L424.5,209.89 L425.5,209.89 L426.5,209.89 L427.5,209.89 L428.5,209.89 L429.5,209.89 L430.5,209.89 L431.5,209.89 L432.5,209.89 L433.5,209.89 L434.5,209.89 L435.5,209.89 L436.5,209.89 L437.5,209.89 L438.5,209.89 L439.5,209.89 L440.5,209.89 L441.5,209.89 L442.5,209.89 L443.5,209.89 L444.5,209.89 L445.5,209.89 L446.5,209.89 L447.5,209.89 L448.5,209.89 L449.5,209.89 L450.5,209.89 L451.5,209.89 L452.5,209.89 L453.5,209.89 L454.5,209.89 L455.5,209.89 L456.5,209.89 L457.5,209.89 L458.5,209.89 L459.5,209.89 L460.5,209.89 L461.5,209.89 L462.5,209.89 L463.5,209.89 L464.5,209.89 L465.5,209.89 L466.5,209.89 L467.5,209.89 L468.5,209.89 L469.5,209.89 L470.5,209.90 L471.5,209.90 L472.5,209.90 L473.5,209.90 L474.5,209.90 L475.5,209.90" fill="none" stroke="#20b8f0" stroke-width="1.5" stroke-linejoin="round"/>
<path d="M268.5,209.86 L269.5,209.86 L270.5,209.86 L271.5,209.86 L272.5,209.86 L273.5,209.85 L274.5,209.85 L275.5,209.85 L276.5,209.85 L277.5,209.85 L278.5,209.85 L279.5,209.85 L280.5,209.85 L281.5,209.84 L282.5,209.84 L283.5,209.84 L284.5,209.84 L285.5,209.84 L286.5,209.84 L287.5,209.83 L288.5,209.83 L289.5,209.83 L290.5,209.83 L291.5,209.83 L292.5,209.82 L293.5,209.82 L294.5,209.82 L295.5,209.82 L296.5,209.81 L297.5,209.81 L298.5,209.81 L299.5,209.80 L300.5,209.80 L301.5,209.80 L302.5,209.79 L303.5,209.79 L304.5,209.78 L305.5,209.78 L306.5,209.77 L307.5,209.77 L308.5,209.76 L309.5,209.76 L310.5,209.75 L311.5,209.75 L312.5,209.74 L313.5,209.73 L314.5,209.72 L315.5,209.71 L316.5,209.71 L317.5,209.69 L318.5,209.68 L319.5,209.67 L320.5,209.65 L321.5,209.63 L322.5,209.61 L323.5,209.58 L324.5,209.54 L325.5,209.50 L326.5,209.43 L327.5,209.35 L328.5,209.24 L329.5,209.09 L330.5,208.90 L331.5,208.66 L332.5,208.36 L333.5,207.97 L334.5,207.50 L335.5,206.91 L336.5,206.21 L337.5,205.37 L338.5,204.39 L339.5,203.23 L340.5,201.88 L341.5,200.31 L342.5,198.50 L343.5,196.39 L344.5,193.95 L345.5,191.11 L346.5,187.82 L347.5,184.03 L348.5,179.68 L349.5,174.75 L350.5,169.28 L351.5,163.32 L352.5,156.96 L353.5,150.34 L354.5,143.64 L355.5,137.14 L356.5,131.12 L357.5,125.91 L358.5,121.83 L359.5,119.16 L360.5,118.13 L361.5,118.82 L362.5,121.06 L363.5,124.73 L364.5,129.64 L365.5,135.58 L366.5,142.27 L367.5,149.42 L368.5,156.74 L369.5,163.96 L370.5,170.88 L371.5,177.29 L372.5,183.08 L373.5,188.17 L374.5,192.51 L375.5,196.12 L376.5,199.02 L377.5,201.28 L378.5,202.95 L379.5,204.12 L380.5,204.87 L381.5,205.27 L382.5,205.40 L383.5,205.33 L384.5,205.13 L385.5,204.88 L386.5,204.61 L387.5,204.38 L388.5,204.23 L389.5,204.16 L390.5,204.15 L391.5,204.20 L392.5,204.28 L393.5,204.40 L394.5,204.54 L395.5,204.68 L396.5,204.81 L397.5,204.92 L398.5,205.01 L399.5,205.06 L400.5,205.09 L401.5,205.09 L402.5,205.08 L403.5,205.06 L404.5,205.04 L405.5,205.05 L406.5,205.08 L407.5,205.16 L408.5,205.28 L409.5,205.45 L410.5,205.69 L411.5,205.97 L412.5,206.29 L413.5,206.64 L414.5,207.00 L415.5,207.36 L416.5,207.71 L417.5,208.05 L418.5,208.36 L419.5,208.63 L420.5,208.87 L421.5,209.08 L422.5,209.25 L423.5,209.39 L424.5,209.50 L425.5,209.59 L426.5,209.66 L427.5,209.71 L428.5,209.75 L429.5,209.78 L430.5,209.80 L431.5,209.81 L432.5,209.82 L433.5,209.83 L434.5,209.83 L435.5,209.84 L436.5,209.84 L437.5,209.84 L438.5,209.85 L439.5,209.85 L440.5,209.85 L441.5,209.85 L442.5,209.85 L443.5,209.85 L444.5,209.85 L445.5,209.86 L446.5,209.86 L447.5,209.86 L448.5,209.86 L449.5,209.86 L450.5,209.86 L451.5,209.86 L452.5,209.86 L453.5,209.86 L454.5,209.86 L455.5,209.86 L456.5,209.86 L457.5,209.87 L458.5,209.87 L459.5,209.87 L460.5,209.87 L461.5,209.87 L462.5,209.87 L463.5,209.87 L464.5,209.87 L465.5,209.87 L466.5,209.87 L467.5,209.87 L468.5,209.87 L469.5,209.87 L470.5,209.87 L471.5,209.87 L472.5,209.87 L473.5,209.87 L474.5,209.87 L475.5,209.88" fill="none" stroke="#2a2ab8" stroke-width="1.8" stroke-linejoin="round"/>
<rect x="267.5" y="2.5" width="209.5" height="209.5" fill="none" stroke="#555" stroke-width="1.5"/>
<line x1="267.5" y1="107.5" x2="477" y2="107.5" stroke="#333" stroke-width="1.3"/>
<path d="M267.50,107.5 v2 M281.47,107.5 v4 M295.43,107.5 v2 M309.40,107.5 v4 M323.37,107.5 v2 M337.33,107.5 v4 M351.30,107.5 v2 M365.27,107.5 v4 M379.23,107.5 v2 M393.20,107.5 v4 M407.17,107.5 v2 M421.13,107.5 v4 M435.10,107.5 v2 M449.07,107.5 v4 M463.03,107.5 v2 M477.00,107.5 v4" stroke="#222" stroke-width="1.2" fill="none"/>
<path d="M267.50,212 v2 M274.48,212 v2 M281.47,212 v4 M288.45,212 v2 M295.43,212 v2 M302.42,212 v2 M309.40,212 v4 M316.38,212 v2 M323.37,212 v2 M330.35,212 v2 M337.33,212 v4 M344.32,212 v2 M351.30,212 v2 M358.28,212 v2 M365.27,212 v4 M372.25,212 v2 M379.23,212 v2 M386.22,212 v2 M393.20,212 v4 M400.18,212 v2 M407.17,212 v2 M414.15,212 v2 M421.13,212 v4 M428.12,212 v2 M435.10,212 v2 M442.08,212 v2 M449.07,212 v4 M456.05,212 v2 M463.03,212 v2 M470.02,212 v2 M477.00,212 v4" stroke="#222" stroke-width="1.2" fill="none"/>
<text x="281.47" y="226.2" text-anchor="middle" font-size="9">294</text>
<text x="309.40" y="226.2" text-anchor="middle" font-size="9">292</text>
<text x="337.33" y="226.2" text-anchor="middle" font-size="9">290</text>
<text x="365.27" y="226.2" text-anchor="middle" font-size="9">288</text>
<text x="393.20" y="226.2" text-anchor="middle" font-size="9">286</text>
<text x="421.13" y="226.2" text-anchor="middle" font-size="9">284</text>
<text x="449.07" y="226.2" text-anchor="middle" font-size="9">282</text>
<text x="477.00" y="226.2" text-anchor="middle" font-size="9">280</text>
<text x="372.25" y="243.2" text-anchor="middle" font-size="11">Binding energy (eV)</text>
<text transform="translate(258.8,105.6) rotate(-90)" text-anchor="middle" font-size="11">Intensity (cps)</text>
<text x="251.0" y="11.6" font-size="12.5">B</text>
<line x1="348.1" y1="112.4" x2="366.3" y2="112.4" stroke="#777" stroke-width="1.4"/>
<path d="M369.3,112.4 L364.3,110.4 L365.3,112.4 L364.3,114.4 Z" fill="#777"/>
<line x1="392.3" y1="11.9" x2="414.8" y2="11.9" stroke="#5a5a5a" stroke-width="1.7"/>
<text x="417.5" y="15.3" font-size="10">C1s mpg-CN</text>
<line x1="392.3" y1="23.4" x2="414.8" y2="23.4" stroke="#ff5050" stroke-width="1.7"/>
<text x="417.5" y="26.799999999999997" font-size="10">C=N-C</text>
<line x1="392.3" y1="35.6" x2="414.8" y2="35.6" stroke="#a0a0a0" stroke-width="1.7"/>
<text x="417.5" y="39.0" font-size="10">C-C</text>
<line x1="392.3" y1="47.6" x2="414.8" y2="47.6" stroke="#22a022" stroke-width="1.7"/>
<text x="417.5" y="51.0" font-size="10">C-NHx</text>
<line x1="392.3" y1="60.3" x2="414.8" y2="60.3" stroke="#20b8f0" stroke-width="1.7"/>
<text x="417.5" y="63.699999999999996" font-size="10">C-O</text>
<line x1="392.3" y1="71.9" x2="414.8" y2="71.9" stroke="#2a2ab8" stroke-width="1.7"/>
<text x="417.5" y="75.30000000000001" font-size="10">envelope</text>
<line x1="377" y1="117.1" x2="399.8" y2="117.1" stroke="#5a5a5a" stroke-width="1.7"/>
<text x="402" y="120.5" font-size="10">C1s mpg-CN+Co</text>
<line x1="377" y1="129.2" x2="399.8" y2="129.2" stroke="#ff5050" stroke-width="1.7"/>
<text x="402" y="132.6" font-size="10">C-N=C</text>
<line x1="377" y1="140.9" x2="399.8" y2="140.9" stroke="#22a022" stroke-width="1.7"/>
<text x="402" y="144.3" font-size="10">C-NHx</text>
<line x1="377" y1="153.2" x2="399.8" y2="153.2" stroke="#a0a0a0" stroke-width="1.7"/>
<text x="402" y="156.6" font-size="10">C-C</text>
<line x1="377" y1="165.4" x2="399.8" y2="165.4" stroke="#20b8f0" stroke-width="1.7"/>
<text x="402" y="168.8" font-size="10">C-O</text>
<line x1="377" y1="177.4" x2="399.8" y2="177.4" stroke="#2a2ab8" stroke-width="1.7"/>
<text x="402" y="180.8" font-size="10">envelope</text>
</svg></body></html>
